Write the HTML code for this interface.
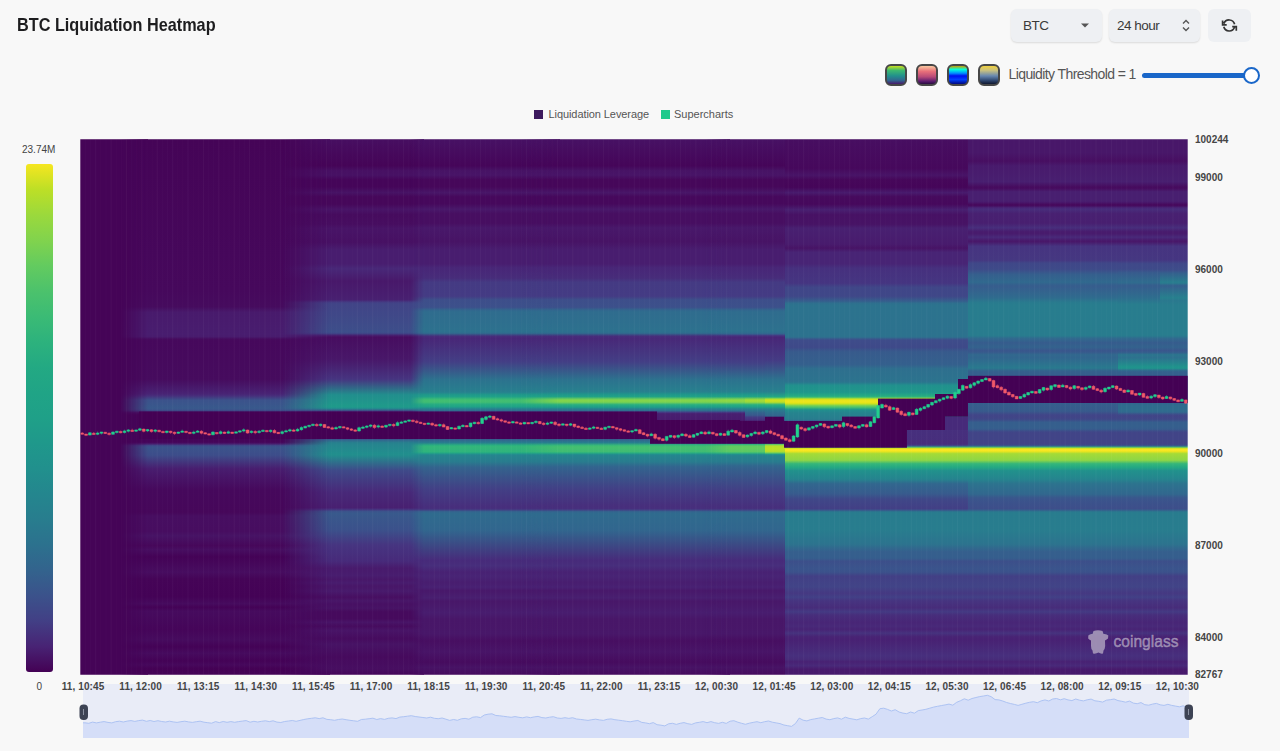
<!DOCTYPE html>
<html><head><meta charset="utf-8">
<style>
*{box-sizing:border-box;margin:0;padding:0}
html,body{width:1280px;height:751px;overflow:hidden;background:#f8f8f8;font-family:"Liberation Sans",sans-serif;position:relative}
.a{position:absolute;white-space:nowrap}
.title{left:16.5px;top:13.5px;font-size:19px;font-weight:bold;color:#1d1d1f;transform:scaleX(0.855);transform-origin:0 0}
.sel{position:absolute;top:9px;height:33px;background:#eef0f3;border-radius:6px;box-shadow:0 1px 2px rgba(0,0,0,0.12)}
.sel span{position:absolute;top:9px;font-size:13.5px;color:#3a3a3a;letter-spacing:-0.5px}
.cm{position:absolute;top:64px;width:22px;height:22px;border:2px solid #474747;border-radius:6px}
.hm{position:absolute;left:0;top:0}
.yl{position:absolute;left:1195px;font-size:10px;color:#454545;font-weight:bold;line-height:12px;margin-top:0.8px}
.xl{position:absolute;top:681.3px;font-size:10px;color:#454545;font-weight:bold;line-height:12px;width:70px;text-align:center;letter-spacing:0.1px}
</style></head><body>
<div class="a title">BTC Liquidation Heatmap</div>
<div class="sel" style="left:1011px;width:91px"><span style="left:12px">BTC</span>
<svg style="position:absolute;left:70px;top:13px" width="8" height="6"><path d="M0 1.5h8l-4 4z" fill="#555"/></svg></div>
<div class="sel" style="left:1109px;width:91px"><span style="left:8px">24 hour</span>
<svg style="position:absolute;left:72px;top:9px" width="10" height="15"><path d="M2 5.5l3-3 3 3M2 9.5l3 3 3-3" fill="none" stroke="#555" stroke-width="1.4"/></svg></div>
<div class="sel" style="left:1208px;width:43px;box-shadow:none"></div>
<svg style="position:absolute;left:0;top:0" width="1280" height="60"><g fill="none" stroke="#343434" stroke-width="1.7"><path d="M1234.6 24.3A5.6 5.6 0 0 0 1223.9 23.6M1222.6 20.5V24.8H1226.7M1223.8 26.8A5.6 5.6 0 0 0 1234.5 27.3M1232.2 26.6H1236.3V30.7"/></g></svg>

<div class="cm" style="left:885px;background:linear-gradient(#c8e020,#3cb870 25%,#21908c 55%,#31658e 80%,#481a6c)"></div>
<div class="cm" style="left:916px;background:linear-gradient(#f9c8a0,#e8707a 30%,#b84a78 60%,#5c1c6e 85%,#2a0c40)"></div>
<div class="cm" style="left:947px;background:linear-gradient(#c8a000,#00ffe0 20%,#0090ff 40%,#0010f0 55%,#0040ff 75%,#000880)"></div>
<div class="cm" style="left:978px;background:linear-gradient(#f0d040,#c8c080 25%,#6888b0 55%,#304870 80%,#101830)"></div>
<div class="a" style="left:1008.5px;top:66px;font-size:14px;color:#555;letter-spacing:-0.6px">Liquidity Threshold = 1</div>
<div class="a" style="left:1142px;top:73px;width:108px;height:5px;border-radius:3px;background:#1a67c9"></div>
<div class="a" style="left:1242.5px;top:67px;width:17px;height:17px;border-radius:50%;background:#fff;border:2.5px solid #1a67c9"></div>

<div class="a" style="left:534px;top:110px;width:9px;height:9px;background:#3d1a5e"></div>
<div class="a" style="left:548.5px;top:108px;font-size:11px;color:#555;letter-spacing:-0.08px">Liquidation Leverage</div>
<div class="a" style="left:661px;top:110px;width:9px;height:9px;background:#1ec98c"></div>
<div class="a" style="left:674px;top:108px;font-size:11px;color:#555">Supercharts</div>

<div class="a" style="left:22px;top:144px;font-size:10px;color:#444">23.74M</div>
<div class="a" style="left:26px;top:164px;width:27px;height:508px;border-radius:3px;background:linear-gradient(#f6e620 0.0%,#bddf26 5.0%,#9bd93c 10.0%,#81d34d 15.0%,#63cb5f 20.0%,#4cc26c 25.0%,#3bbb75 30.0%,#2db27d 35.0%,#23a983 40.0%,#20a486 45.0%,#1fa088 50.0%,#1f988b 55.0%,#21908d 60.0%,#24868e 65.0%,#287d8e 70.0%,#2c718e 75.0%,#33638d 80.0%,#3b528b 85.0%,#423f85 90.0%,#482374 95.0%,#440154 100.0%)"></div>
<div class="a" style="left:36.5px;top:681px;font-size:10px;color:#444">0</div>

<svg class="hm" width="1280" height="751" viewBox="0 0 1280 751"><defs><linearGradient id="g0" gradientUnits="userSpaceOnUse" x1="0" y1="139.2" x2="0" y2="674.8"><stop offset="0.0000" stop-color="#450457"/><stop offset="0.9999" stop-color="#450457"/></linearGradient><linearGradient id="g1" gradientUnits="userSpaceOnUse" x1="0" y1="139.2" x2="0" y2="674.8"><stop offset="0.0000" stop-color="#450457"/><stop offset="0.2820" stop-color="#46085c"/><stop offset="0.3128" stop-color="#460b5e"/><stop offset="0.3230" stop-color="#481a6c"/><stop offset="0.3650" stop-color="#481d6f"/><stop offset="0.3688" stop-color="#481b6d"/><stop offset="0.3734" stop-color="#460a5d"/><stop offset="0.3762" stop-color="#46085c"/><stop offset="0.4481" stop-color="#460b5e"/><stop offset="0.4752" stop-color="#482374"/><stop offset="0.4789" stop-color="#472d7b"/><stop offset="0.4873" stop-color="#3b528b"/><stop offset="0.5023" stop-color="#38598c"/><stop offset="0.5060" stop-color="#3b518b"/><stop offset="0.5107" stop-color="#471063"/><stop offset="0.5144" stop-color="#450457"/><stop offset="0.5658" stop-color="#450559"/><stop offset="0.5686" stop-color="#481a6c"/><stop offset="0.5723" stop-color="#3e4c8a"/><stop offset="0.5751" stop-color="#3a538b"/><stop offset="0.5900" stop-color="#3d4d8a"/><stop offset="0.6153" stop-color="#481d6f"/><stop offset="0.6554" stop-color="#46085c"/><stop offset="0.6965" stop-color="#46075a"/><stop offset="0.7039" stop-color="#470e61"/><stop offset="0.7320" stop-color="#470d60"/><stop offset="0.7404" stop-color="#471365"/><stop offset="0.7590" stop-color="#46075a"/><stop offset="0.7665" stop-color="#470e61"/><stop offset="0.7796" stop-color="#440256"/><stop offset="0.8085" stop-color="#470d60"/><stop offset="0.8207" stop-color="#450457"/><stop offset="0.8543" stop-color="#440256"/><stop offset="0.8673" stop-color="#460b5e"/><stop offset="0.8739" stop-color="#440256"/><stop offset="0.8813" stop-color="#460b5e"/><stop offset="0.9149" stop-color="#450559"/><stop offset="0.9346" stop-color="#460b5e"/><stop offset="0.9476" stop-color="#440256"/><stop offset="0.9598" stop-color="#460b5e"/><stop offset="0.9738" stop-color="#440256"/><stop offset="0.9812" stop-color="#46085c"/><stop offset="0.9887" stop-color="#440154"/><stop offset="0.9999" stop-color="#450457"/></linearGradient><linearGradient id="f1" gradientUnits="userSpaceOnUse" x1="120.0" y1="0" x2="148.0" y2="0"><stop offset="0" stop-color="#fff" stop-opacity="0"/><stop offset="1" stop-color="#fff" stop-opacity="1"/></linearGradient><mask id="m1" maskUnits="userSpaceOnUse" x="0" y="0" width="1280" height="751"><rect x="120.0" y="136.2" width="210.0" height="541.5" fill="url(#f1)"/></mask><linearGradient id="g2" gradientUnits="userSpaceOnUse" x1="0" y1="139.2" x2="0" y2="674.8"><stop offset="0.0000" stop-color="#470e61"/><stop offset="0.0495" stop-color="#450457"/><stop offset="0.0588" stop-color="#471063"/><stop offset="0.0672" stop-color="#471164"/><stop offset="0.0756" stop-color="#450559"/><stop offset="0.0887" stop-color="#450559"/><stop offset="0.0999" stop-color="#471365"/><stop offset="0.1074" stop-color="#46075a"/><stop offset="0.1214" stop-color="#46075a"/><stop offset="0.1307" stop-color="#481467"/><stop offset="0.1410" stop-color="#460b5e"/><stop offset="0.1587" stop-color="#470d60"/><stop offset="0.1662" stop-color="#481467"/><stop offset="0.1923" stop-color="#471063"/><stop offset="0.2063" stop-color="#481d6f"/><stop offset="0.2325" stop-color="#481d6f"/><stop offset="0.2418" stop-color="#482878"/><stop offset="0.2651" stop-color="#48186a"/><stop offset="0.2997" stop-color="#482071"/><stop offset="0.3044" stop-color="#433d84"/><stop offset="0.3072" stop-color="#414487"/><stop offset="0.3594" stop-color="#3d4e8a"/><stop offset="0.3622" stop-color="#3e4989"/><stop offset="0.3669" stop-color="#481a6c"/><stop offset="0.3697" stop-color="#470d60"/><stop offset="0.4108" stop-color="#481769"/><stop offset="0.4481" stop-color="#463480"/><stop offset="0.4771" stop-color="#218e8d"/><stop offset="0.4986" stop-color="#1f9a8a"/><stop offset="0.5004" stop-color="#1f988b"/><stop offset="0.5023" stop-color="#218f8d"/><stop offset="0.5042" stop-color="#297b8e"/><stop offset="0.5079" stop-color="#453781"/><stop offset="0.5098" stop-color="#481769"/><stop offset="0.5116" stop-color="#46075a"/><stop offset="0.5135" stop-color="#450457"/><stop offset="0.5546" stop-color="#450559"/><stop offset="0.5564" stop-color="#471164"/><stop offset="0.5574" stop-color="#481d6f"/><stop offset="0.5602" stop-color="#3b528b"/><stop offset="0.5620" stop-color="#31688e"/><stop offset="0.5667" stop-color="#27808e"/><stop offset="0.5704" stop-color="#25858e"/><stop offset="0.5882" stop-color="#218f8d"/><stop offset="0.5919" stop-color="#238a8d"/><stop offset="0.6181" stop-color="#3e4a89"/><stop offset="0.6591" stop-color="#482979"/><stop offset="0.6881" stop-color="#482071"/><stop offset="0.6909" stop-color="#472f7d"/><stop offset="0.6946" stop-color="#3b528b"/><stop offset="0.6983" stop-color="#38598c"/><stop offset="0.7292" stop-color="#3b518b"/><stop offset="0.7581" stop-color="#463480"/><stop offset="0.7880" stop-color="#472a7a"/><stop offset="0.8010" stop-color="#481a6c"/><stop offset="0.8150" stop-color="#481d6f"/><stop offset="0.8216" stop-color="#481769"/><stop offset="0.8281" stop-color="#481c6e"/><stop offset="0.8347" stop-color="#481668"/><stop offset="0.8440" stop-color="#481a6c"/><stop offset="0.8552" stop-color="#470e61"/><stop offset="0.8617" stop-color="#481668"/><stop offset="0.8683" stop-color="#471063"/><stop offset="0.8757" stop-color="#471365"/><stop offset="0.8823" stop-color="#460a5d"/><stop offset="0.8953" stop-color="#460a5d"/><stop offset="0.9019" stop-color="#481467"/><stop offset="0.9093" stop-color="#460b5e"/><stop offset="0.9168" stop-color="#481467"/><stop offset="0.9327" stop-color="#460b5e"/><stop offset="0.9430" stop-color="#471365"/><stop offset="0.9663" stop-color="#460a5d"/><stop offset="0.9887" stop-color="#470e61"/><stop offset="0.9999" stop-color="#450559"/></linearGradient><linearGradient id="f2" gradientUnits="userSpaceOnUse" x1="282.0" y1="0" x2="330.0" y2="0"><stop offset="0" stop-color="#fff" stop-opacity="0"/><stop offset="1" stop-color="#fff" stop-opacity="1"/></linearGradient><mask id="m2" maskUnits="userSpaceOnUse" x="0" y="0" width="1280" height="751"><rect x="282.0" y="136.2" width="142.0" height="541.5" fill="url(#f2)"/></mask><linearGradient id="g3" gradientUnits="userSpaceOnUse" x1="0" y1="139.2" x2="0" y2="674.8"><stop offset="0.0000" stop-color="#471164"/><stop offset="0.0495" stop-color="#450559"/><stop offset="0.0588" stop-color="#471365"/><stop offset="0.0672" stop-color="#481467"/><stop offset="0.0756" stop-color="#46075a"/><stop offset="0.0887" stop-color="#46075a"/><stop offset="0.0999" stop-color="#481668"/><stop offset="0.1074" stop-color="#46085c"/><stop offset="0.1204" stop-color="#46085c"/><stop offset="0.1307" stop-color="#48186a"/><stop offset="0.1391" stop-color="#470e61"/><stop offset="0.1568" stop-color="#470e61"/><stop offset="0.1653" stop-color="#48186a"/><stop offset="0.1914" stop-color="#471365"/><stop offset="0.2063" stop-color="#481d6f"/><stop offset="0.2325" stop-color="#481d6f"/><stop offset="0.2399" stop-color="#482677"/><stop offset="0.2595" stop-color="#472c7a"/><stop offset="0.2670" stop-color="#443a83"/><stop offset="0.2932" stop-color="#443b84"/><stop offset="0.2997" stop-color="#3d4e8a"/><stop offset="0.3137" stop-color="#3c508b"/><stop offset="0.3193" stop-color="#31678e"/><stop offset="0.3221" stop-color="#2f6c8e"/><stop offset="0.3585" stop-color="#2d718e"/><stop offset="0.3622" stop-color="#2f6b8e"/><stop offset="0.3678" stop-color="#472d7b"/><stop offset="0.3716" stop-color="#482677"/><stop offset="0.4155" stop-color="#433e85"/><stop offset="0.4491" stop-color="#2c728e"/><stop offset="0.4705" stop-color="#277e8e"/><stop offset="0.4733" stop-color="#25858e"/><stop offset="0.4771" stop-color="#1f998a"/><stop offset="0.4808" stop-color="#1fa188"/><stop offset="0.4855" stop-color="#3bbb75"/><stop offset="0.4883" stop-color="#42be71"/><stop offset="0.4911" stop-color="#3fbc73"/><stop offset="0.4948" stop-color="#27ad81"/><stop offset="0.4995" stop-color="#1fa287"/><stop offset="0.5032" stop-color="#25838e"/><stop offset="0.5070" stop-color="#2f6c8e"/><stop offset="0.5098" stop-color="#433e85"/><stop offset="0.5116" stop-color="#482576"/><stop offset="0.5135" stop-color="#481f70"/><stop offset="0.5238" stop-color="#481c6e"/><stop offset="0.5284" stop-color="#46085c"/><stop offset="0.5312" stop-color="#450457"/><stop offset="0.5527" stop-color="#450457"/><stop offset="0.5555" stop-color="#460a5d"/><stop offset="0.5574" stop-color="#482173"/><stop offset="0.5602" stop-color="#38598c"/><stop offset="0.5611" stop-color="#32648e"/><stop offset="0.5667" stop-color="#287d8e"/><stop offset="0.5714" stop-color="#29af7f"/><stop offset="0.5732" stop-color="#31b57b"/><stop offset="0.5760" stop-color="#32b67a"/><stop offset="0.5835" stop-color="#2fb47c"/><stop offset="0.5854" stop-color="#25ab82"/><stop offset="0.5882" stop-color="#21908d"/><stop offset="0.5900" stop-color="#25858e"/><stop offset="0.6022" stop-color="#287c8e"/><stop offset="0.6125" stop-color="#33638d"/><stop offset="0.6535" stop-color="#423f85"/><stop offset="0.6862" stop-color="#472e7c"/><stop offset="0.6890" stop-color="#472e7c"/><stop offset="0.6909" stop-color="#463480"/><stop offset="0.6955" stop-color="#32658e"/><stop offset="0.6993" stop-color="#2f6b8e"/><stop offset="0.7301" stop-color="#31668e"/><stop offset="0.7870" stop-color="#472a7a"/><stop offset="0.7964" stop-color="#472e7c"/><stop offset="0.8085" stop-color="#482173"/><stop offset="0.8160" stop-color="#482475"/><stop offset="0.8281" stop-color="#481d6f"/><stop offset="0.8365" stop-color="#482173"/><stop offset="0.8431" stop-color="#48186a"/><stop offset="0.8561" stop-color="#481f70"/><stop offset="0.8627" stop-color="#481769"/><stop offset="0.8841" stop-color="#481d6f"/><stop offset="0.8963" stop-color="#481668"/><stop offset="0.9233" stop-color="#481769"/><stop offset="0.9364" stop-color="#470e61"/><stop offset="0.9570" stop-color="#481467"/><stop offset="0.9766" stop-color="#460b5e"/><stop offset="0.9859" stop-color="#471365"/><stop offset="0.9999" stop-color="#460b5e"/></linearGradient><linearGradient id="f3" gradientUnits="userSpaceOnUse" x1="410.0" y1="0" x2="424.0" y2="0"><stop offset="0" stop-color="#fff" stop-opacity="0"/><stop offset="1" stop-color="#fff" stop-opacity="1"/></linearGradient><mask id="m3" maskUnits="userSpaceOnUse" x="0" y="0" width="1280" height="751"><rect x="410.0" y="136.2" width="150.0" height="541.5" fill="url(#f3)"/></mask><linearGradient id="g4" gradientUnits="userSpaceOnUse" x1="0" y1="139.2" x2="0" y2="674.8"><stop offset="0.0000" stop-color="#471164"/><stop offset="0.0495" stop-color="#450559"/><stop offset="0.0588" stop-color="#471365"/><stop offset="0.0672" stop-color="#481467"/><stop offset="0.0756" stop-color="#46075a"/><stop offset="0.0887" stop-color="#46075a"/><stop offset="0.0999" stop-color="#481668"/><stop offset="0.1074" stop-color="#46085c"/><stop offset="0.1204" stop-color="#46085c"/><stop offset="0.1307" stop-color="#48186a"/><stop offset="0.1391" stop-color="#470e61"/><stop offset="0.1568" stop-color="#470e61"/><stop offset="0.1653" stop-color="#48186a"/><stop offset="0.1914" stop-color="#471365"/><stop offset="0.2063" stop-color="#481d6f"/><stop offset="0.2325" stop-color="#481d6f"/><stop offset="0.2399" stop-color="#482677"/><stop offset="0.2595" stop-color="#472c7a"/><stop offset="0.2670" stop-color="#443a83"/><stop offset="0.2932" stop-color="#443b84"/><stop offset="0.2997" stop-color="#3d4e8a"/><stop offset="0.3137" stop-color="#3c508b"/><stop offset="0.3193" stop-color="#31678e"/><stop offset="0.3221" stop-color="#2f6c8e"/><stop offset="0.3585" stop-color="#2d718e"/><stop offset="0.3622" stop-color="#2f6b8e"/><stop offset="0.3678" stop-color="#472d7b"/><stop offset="0.3725" stop-color="#482878"/><stop offset="0.4155" stop-color="#433e85"/><stop offset="0.4491" stop-color="#2c728e"/><stop offset="0.4715" stop-color="#27808e"/><stop offset="0.4761" stop-color="#1f958b"/><stop offset="0.4808" stop-color="#20a386"/><stop offset="0.4855" stop-color="#73d056"/><stop offset="0.4883" stop-color="#86d549"/><stop offset="0.4911" stop-color="#77d153"/><stop offset="0.4958" stop-color="#28ae80"/><stop offset="0.5004" stop-color="#1e9d89"/><stop offset="0.5032" stop-color="#25838e"/><stop offset="0.5070" stop-color="#2f6c8e"/><stop offset="0.5098" stop-color="#433e85"/><stop offset="0.5116" stop-color="#482576"/><stop offset="0.5135" stop-color="#481f70"/><stop offset="0.5238" stop-color="#481c6e"/><stop offset="0.5303" stop-color="#450559"/><stop offset="0.5527" stop-color="#450457"/><stop offset="0.5555" stop-color="#460a5d"/><stop offset="0.5574" stop-color="#482173"/><stop offset="0.5602" stop-color="#38598c"/><stop offset="0.5611" stop-color="#32648e"/><stop offset="0.5667" stop-color="#277e8e"/><stop offset="0.5714" stop-color="#35b779"/><stop offset="0.5732" stop-color="#40bd72"/><stop offset="0.5760" stop-color="#44bf70"/><stop offset="0.5835" stop-color="#3fbc73"/><stop offset="0.5854" stop-color="#2cb17e"/><stop offset="0.5882" stop-color="#20928c"/><stop offset="0.5900" stop-color="#24868e"/><stop offset="0.6022" stop-color="#287c8e"/><stop offset="0.6115" stop-color="#32648e"/><stop offset="0.6535" stop-color="#423f85"/><stop offset="0.6853" stop-color="#472e7c"/><stop offset="0.6899" stop-color="#472f7d"/><stop offset="0.6918" stop-color="#433d84"/><stop offset="0.6955" stop-color="#32658e"/><stop offset="0.6993" stop-color="#2f6b8e"/><stop offset="0.7301" stop-color="#31668e"/><stop offset="0.7870" stop-color="#472a7a"/><stop offset="0.7964" stop-color="#472e7c"/><stop offset="0.8085" stop-color="#482173"/><stop offset="0.8160" stop-color="#482475"/><stop offset="0.8281" stop-color="#481d6f"/><stop offset="0.8365" stop-color="#482173"/><stop offset="0.8431" stop-color="#48186a"/><stop offset="0.8561" stop-color="#481f70"/><stop offset="0.8627" stop-color="#481769"/><stop offset="0.8841" stop-color="#481d6f"/><stop offset="0.8963" stop-color="#481668"/><stop offset="0.9233" stop-color="#481769"/><stop offset="0.9364" stop-color="#470e61"/><stop offset="0.9570" stop-color="#481467"/><stop offset="0.9766" stop-color="#460b5e"/><stop offset="0.9859" stop-color="#471365"/><stop offset="0.9999" stop-color="#460b5e"/></linearGradient><linearGradient id="f4" gradientUnits="userSpaceOnUse" x1="520.0" y1="0" x2="560.0" y2="0"><stop offset="0" stop-color="#fff" stop-opacity="0"/><stop offset="1" stop-color="#fff" stop-opacity="1"/></linearGradient><mask id="m4" maskUnits="userSpaceOnUse" x="0" y="0" width="1280" height="751"><rect x="520.0" y="136.2" width="210.0" height="541.5" fill="url(#f4)"/></mask><linearGradient id="g5" gradientUnits="userSpaceOnUse" x1="0" y1="139.2" x2="0" y2="674.8"><stop offset="0.0000" stop-color="#471164"/><stop offset="0.0495" stop-color="#450559"/><stop offset="0.0588" stop-color="#471365"/><stop offset="0.0672" stop-color="#481467"/><stop offset="0.0756" stop-color="#46075a"/><stop offset="0.0887" stop-color="#46075a"/><stop offset="0.0999" stop-color="#481668"/><stop offset="0.1074" stop-color="#46085c"/><stop offset="0.1204" stop-color="#46085c"/><stop offset="0.1307" stop-color="#48186a"/><stop offset="0.1391" stop-color="#470e61"/><stop offset="0.1568" stop-color="#470e61"/><stop offset="0.1653" stop-color="#48186a"/><stop offset="0.1914" stop-color="#471365"/><stop offset="0.2063" stop-color="#481d6f"/><stop offset="0.2325" stop-color="#481d6f"/><stop offset="0.2399" stop-color="#482677"/><stop offset="0.2595" stop-color="#472c7a"/><stop offset="0.2670" stop-color="#443a83"/><stop offset="0.2932" stop-color="#443b84"/><stop offset="0.2997" stop-color="#3d4e8a"/><stop offset="0.3137" stop-color="#3c508b"/><stop offset="0.3193" stop-color="#31678e"/><stop offset="0.3221" stop-color="#2f6c8e"/><stop offset="0.3576" stop-color="#2d718e"/><stop offset="0.3622" stop-color="#2f6b8e"/><stop offset="0.3641" stop-color="#375b8d"/><stop offset="0.3669" stop-color="#463480"/><stop offset="0.3697" stop-color="#482677"/><stop offset="0.4099" stop-color="#443a83"/><stop offset="0.4173" stop-color="#424086"/><stop offset="0.4491" stop-color="#2c728e"/><stop offset="0.4715" stop-color="#27808e"/><stop offset="0.4761" stop-color="#1f958b"/><stop offset="0.4808" stop-color="#20a486"/><stop offset="0.4855" stop-color="#7fd34e"/><stop offset="0.4883" stop-color="#93d741"/><stop offset="0.4911" stop-color="#81d34d"/><stop offset="0.4958" stop-color="#28ae80"/><stop offset="0.4995" stop-color="#1fa287"/><stop offset="0.5032" stop-color="#25838e"/><stop offset="0.5060" stop-color="#2c738e"/><stop offset="0.5079" stop-color="#355f8d"/><stop offset="0.5107" stop-color="#472e7c"/><stop offset="0.5116" stop-color="#482576"/><stop offset="0.5135" stop-color="#481f70"/><stop offset="0.5238" stop-color="#481c6e"/><stop offset="0.5303" stop-color="#450559"/><stop offset="0.5527" stop-color="#450457"/><stop offset="0.5555" stop-color="#460a5d"/><stop offset="0.5574" stop-color="#482173"/><stop offset="0.5602" stop-color="#38598c"/><stop offset="0.5611" stop-color="#32648e"/><stop offset="0.5667" stop-color="#27808e"/><stop offset="0.5676" stop-color="#228b8d"/><stop offset="0.5704" stop-color="#38b977"/><stop offset="0.5714" stop-color="#4cc26c"/><stop offset="0.5732" stop-color="#60ca60"/><stop offset="0.5770" stop-color="#63cb5f"/><stop offset="0.5835" stop-color="#5ac864"/><stop offset="0.5854" stop-color="#3dbc74"/><stop offset="0.5882" stop-color="#1f958b"/><stop offset="0.5891" stop-color="#228c8d"/><stop offset="0.5910" stop-color="#25838e"/><stop offset="0.6022" stop-color="#287c8e"/><stop offset="0.6097" stop-color="#31678e"/><stop offset="0.6134" stop-color="#33628d"/><stop offset="0.6573" stop-color="#433d84"/><stop offset="0.6890" stop-color="#472e7c"/><stop offset="0.6918" stop-color="#433d84"/><stop offset="0.6955" stop-color="#32658e"/><stop offset="0.6974" stop-color="#2f6b8e"/><stop offset="0.7002" stop-color="#2f6b8e"/><stop offset="0.7301" stop-color="#31668e"/><stop offset="0.7870" stop-color="#472a7a"/><stop offset="0.7964" stop-color="#472e7c"/><stop offset="0.8085" stop-color="#482173"/><stop offset="0.8160" stop-color="#482475"/><stop offset="0.8281" stop-color="#481d6f"/><stop offset="0.8365" stop-color="#482173"/><stop offset="0.8431" stop-color="#48186a"/><stop offset="0.8561" stop-color="#481f70"/><stop offset="0.8627" stop-color="#481769"/><stop offset="0.8841" stop-color="#481d6f"/><stop offset="0.8963" stop-color="#481668"/><stop offset="0.9233" stop-color="#481769"/><stop offset="0.9364" stop-color="#470e61"/><stop offset="0.9570" stop-color="#481467"/><stop offset="0.9766" stop-color="#460b5e"/><stop offset="0.9859" stop-color="#471365"/><stop offset="0.9999" stop-color="#460b5e"/></linearGradient><linearGradient id="f5" gradientUnits="userSpaceOnUse" x1="705.0" y1="0" x2="730.0" y2="0"><stop offset="0" stop-color="#fff" stop-opacity="0"/><stop offset="1" stop-color="#fff" stop-opacity="1"/></linearGradient><mask id="m5" maskUnits="userSpaceOnUse" x="0" y="0" width="1280" height="751"><rect x="705.0" y="136.2" width="40.0" height="541.5" fill="url(#f5)"/></mask><linearGradient id="g6" gradientUnits="userSpaceOnUse" x1="0" y1="139.2" x2="0" y2="674.8"><stop offset="0.0000" stop-color="#471164"/><stop offset="0.0495" stop-color="#450559"/><stop offset="0.0588" stop-color="#471365"/><stop offset="0.0672" stop-color="#481467"/><stop offset="0.0756" stop-color="#46075a"/><stop offset="0.0887" stop-color="#46075a"/><stop offset="0.0999" stop-color="#481668"/><stop offset="0.1074" stop-color="#46085c"/><stop offset="0.1204" stop-color="#46085c"/><stop offset="0.1307" stop-color="#48186a"/><stop offset="0.1391" stop-color="#470e61"/><stop offset="0.1568" stop-color="#470e61"/><stop offset="0.1653" stop-color="#48186a"/><stop offset="0.1914" stop-color="#471365"/><stop offset="0.2063" stop-color="#481d6f"/><stop offset="0.2325" stop-color="#481d6f"/><stop offset="0.2399" stop-color="#482677"/><stop offset="0.2595" stop-color="#472c7a"/><stop offset="0.2670" stop-color="#443a83"/><stop offset="0.2932" stop-color="#443b84"/><stop offset="0.2997" stop-color="#3d4e8a"/><stop offset="0.3137" stop-color="#3c508b"/><stop offset="0.3193" stop-color="#31678e"/><stop offset="0.3221" stop-color="#2f6c8e"/><stop offset="0.3576" stop-color="#2d718e"/><stop offset="0.3622" stop-color="#2f6b8e"/><stop offset="0.3641" stop-color="#375b8d"/><stop offset="0.3669" stop-color="#463480"/><stop offset="0.3697" stop-color="#482677"/><stop offset="0.4117" stop-color="#443b84"/><stop offset="0.4183" stop-color="#424186"/><stop offset="0.4491" stop-color="#2c728e"/><stop offset="0.4715" stop-color="#27808e"/><stop offset="0.4761" stop-color="#1f958b"/><stop offset="0.4808" stop-color="#21a585"/><stop offset="0.4855" stop-color="#90d743"/><stop offset="0.4883" stop-color="#a8db34"/><stop offset="0.4911" stop-color="#93d741"/><stop offset="0.4958" stop-color="#29af7f"/><stop offset="0.4995" stop-color="#1fa287"/><stop offset="0.5042" stop-color="#277e8e"/><stop offset="0.5107" stop-color="#33638d"/><stop offset="0.5154" stop-color="#38598c"/><stop offset="0.5191" stop-color="#443b84"/><stop offset="0.5238" stop-color="#46307e"/><stop offset="0.5284" stop-color="#470d60"/><stop offset="0.5312" stop-color="#450457"/><stop offset="0.5527" stop-color="#450457"/><stop offset="0.5555" stop-color="#460a5d"/><stop offset="0.5574" stop-color="#482173"/><stop offset="0.5602" stop-color="#38598c"/><stop offset="0.5611" stop-color="#32648e"/><stop offset="0.5667" stop-color="#27808e"/><stop offset="0.5676" stop-color="#228b8d"/><stop offset="0.5704" stop-color="#38b977"/><stop offset="0.5714" stop-color="#4cc26c"/><stop offset="0.5732" stop-color="#60ca60"/><stop offset="0.5770" stop-color="#63cb5f"/><stop offset="0.5835" stop-color="#5ac864"/><stop offset="0.5854" stop-color="#3dbc74"/><stop offset="0.5882" stop-color="#1f958b"/><stop offset="0.5891" stop-color="#228c8d"/><stop offset="0.5910" stop-color="#25838e"/><stop offset="0.6022" stop-color="#287c8e"/><stop offset="0.6097" stop-color="#31678e"/><stop offset="0.6134" stop-color="#33628d"/><stop offset="0.6573" stop-color="#433d84"/><stop offset="0.6890" stop-color="#472e7c"/><stop offset="0.6918" stop-color="#433d84"/><stop offset="0.6955" stop-color="#32658e"/><stop offset="0.6974" stop-color="#2f6b8e"/><stop offset="0.7002" stop-color="#2f6b8e"/><stop offset="0.7301" stop-color="#31668e"/><stop offset="0.7870" stop-color="#472a7a"/><stop offset="0.7964" stop-color="#472e7c"/><stop offset="0.8085" stop-color="#482173"/><stop offset="0.8160" stop-color="#482475"/><stop offset="0.8281" stop-color="#481d6f"/><stop offset="0.8365" stop-color="#482173"/><stop offset="0.8431" stop-color="#48186a"/><stop offset="0.8561" stop-color="#481f70"/><stop offset="0.8627" stop-color="#481769"/><stop offset="0.8841" stop-color="#481d6f"/><stop offset="0.8963" stop-color="#481668"/><stop offset="0.9233" stop-color="#481769"/><stop offset="0.9364" stop-color="#470e61"/><stop offset="0.9570" stop-color="#481467"/><stop offset="0.9766" stop-color="#460b5e"/><stop offset="0.9859" stop-color="#471365"/><stop offset="0.9999" stop-color="#460b5e"/></linearGradient><linearGradient id="g7" gradientUnits="userSpaceOnUse" x1="0" y1="139.2" x2="0" y2="674.8"><stop offset="0.0000" stop-color="#471164"/><stop offset="0.0495" stop-color="#450559"/><stop offset="0.0588" stop-color="#471365"/><stop offset="0.0672" stop-color="#481467"/><stop offset="0.0756" stop-color="#46075a"/><stop offset="0.0887" stop-color="#46075a"/><stop offset="0.0999" stop-color="#481668"/><stop offset="0.1074" stop-color="#46085c"/><stop offset="0.1204" stop-color="#46085c"/><stop offset="0.1307" stop-color="#48186a"/><stop offset="0.1391" stop-color="#470e61"/><stop offset="0.1568" stop-color="#470e61"/><stop offset="0.1653" stop-color="#48186a"/><stop offset="0.1914" stop-color="#471365"/><stop offset="0.2063" stop-color="#481d6f"/><stop offset="0.2325" stop-color="#481d6f"/><stop offset="0.2399" stop-color="#482677"/><stop offset="0.2595" stop-color="#472c7a"/><stop offset="0.2670" stop-color="#443a83"/><stop offset="0.2932" stop-color="#443b84"/><stop offset="0.2997" stop-color="#3d4e8a"/><stop offset="0.3137" stop-color="#3c508b"/><stop offset="0.3193" stop-color="#31678e"/><stop offset="0.3221" stop-color="#2f6c8e"/><stop offset="0.3576" stop-color="#2d718e"/><stop offset="0.3622" stop-color="#2f6b8e"/><stop offset="0.3641" stop-color="#375b8d"/><stop offset="0.3669" stop-color="#463480"/><stop offset="0.3697" stop-color="#482677"/><stop offset="0.4127" stop-color="#443b84"/><stop offset="0.4491" stop-color="#2c728e"/><stop offset="0.4715" stop-color="#27808e"/><stop offset="0.4808" stop-color="#22a785"/><stop offset="0.4817" stop-color="#2cb17e"/><stop offset="0.4845" stop-color="#93d741"/><stop offset="0.4855" stop-color="#b2dd2d"/><stop offset="0.4864" stop-color="#c5e021"/><stop offset="0.4883" stop-color="#d0e11c"/><stop offset="0.4911" stop-color="#b8de29"/><stop offset="0.4958" stop-color="#2cb17e"/><stop offset="0.4995" stop-color="#1fa287"/><stop offset="0.5042" stop-color="#277e8e"/><stop offset="0.5107" stop-color="#2e6e8e"/><stop offset="0.5238" stop-color="#375a8c"/><stop offset="0.5256" stop-color="#404688"/><stop offset="0.5284" stop-color="#481668"/><stop offset="0.5312" stop-color="#450559"/><stop offset="0.5527" stop-color="#450457"/><stop offset="0.5555" stop-color="#460a5d"/><stop offset="0.5574" stop-color="#482173"/><stop offset="0.5602" stop-color="#38598c"/><stop offset="0.5611" stop-color="#32648e"/><stop offset="0.5658" stop-color="#297a8e"/><stop offset="0.5667" stop-color="#25838e"/><stop offset="0.5676" stop-color="#20938c"/><stop offset="0.5704" stop-color="#6ece58"/><stop offset="0.5714" stop-color="#95d840"/><stop offset="0.5732" stop-color="#b8de29"/><stop offset="0.5770" stop-color="#bddf26"/><stop offset="0.5816" stop-color="#bade28"/><stop offset="0.5835" stop-color="#addc30"/><stop offset="0.5854" stop-color="#75d054"/><stop offset="0.5882" stop-color="#1f9e89"/><stop offset="0.5891" stop-color="#21908d"/><stop offset="0.5910" stop-color="#25848e"/><stop offset="0.6022" stop-color="#287c8e"/><stop offset="0.6097" stop-color="#31678e"/><stop offset="0.6134" stop-color="#33628d"/><stop offset="0.6554" stop-color="#433e85"/><stop offset="0.6890" stop-color="#472e7c"/><stop offset="0.6918" stop-color="#433d84"/><stop offset="0.6955" stop-color="#32658e"/><stop offset="0.6974" stop-color="#2f6b8e"/><stop offset="0.7002" stop-color="#2f6b8e"/><stop offset="0.7301" stop-color="#31668e"/><stop offset="0.7870" stop-color="#472a7a"/><stop offset="0.7964" stop-color="#472e7c"/><stop offset="0.8085" stop-color="#482173"/><stop offset="0.8160" stop-color="#482475"/><stop offset="0.8281" stop-color="#481d6f"/><stop offset="0.8365" stop-color="#482173"/><stop offset="0.8431" stop-color="#48186a"/><stop offset="0.8561" stop-color="#481f70"/><stop offset="0.8627" stop-color="#481769"/><stop offset="0.8841" stop-color="#481d6f"/><stop offset="0.8963" stop-color="#481668"/><stop offset="0.9233" stop-color="#481769"/><stop offset="0.9364" stop-color="#470e61"/><stop offset="0.9570" stop-color="#481467"/><stop offset="0.9766" stop-color="#460b5e"/><stop offset="0.9859" stop-color="#471365"/><stop offset="0.9999" stop-color="#460b5e"/></linearGradient><linearGradient id="g8" gradientUnits="userSpaceOnUse" x1="0" y1="139.2" x2="0" y2="674.8"><stop offset="0.0000" stop-color="#470e61"/><stop offset="0.0541" stop-color="#46085c"/><stop offset="0.0672" stop-color="#481467"/><stop offset="0.0756" stop-color="#46075a"/><stop offset="0.0896" stop-color="#450559"/><stop offset="0.0999" stop-color="#481b6d"/><stop offset="0.1074" stop-color="#460a5d"/><stop offset="0.1214" stop-color="#46085c"/><stop offset="0.1316" stop-color="#482071"/><stop offset="0.1410" stop-color="#471164"/><stop offset="0.1587" stop-color="#471365"/><stop offset="0.1662" stop-color="#482071"/><stop offset="0.1961" stop-color="#481b6d"/><stop offset="0.2035" stop-color="#471365"/><stop offset="0.2110" stop-color="#482475"/><stop offset="0.2325" stop-color="#482475"/><stop offset="0.2409" stop-color="#46307e"/><stop offset="0.2689" stop-color="#453581"/><stop offset="0.2764" stop-color="#404688"/><stop offset="0.2932" stop-color="#3f4788"/><stop offset="0.3025" stop-color="#355f8d"/><stop offset="0.3062" stop-color="#2e6f8e"/><stop offset="0.3100" stop-color="#2c738e"/><stop offset="0.3678" stop-color="#2c728e"/><stop offset="0.3697" stop-color="#2e6f8e"/><stop offset="0.3734" stop-color="#3a548c"/><stop offset="0.3753" stop-color="#3e4c8a"/><stop offset="0.3884" stop-color="#3e4989"/><stop offset="0.3968" stop-color="#375a8c"/><stop offset="0.4211" stop-color="#34608d"/><stop offset="0.4285" stop-color="#2e6f8e"/><stop offset="0.4519" stop-color="#2c738e"/><stop offset="0.4537" stop-color="#2a768e"/><stop offset="0.4593" stop-color="#21908d"/><stop offset="0.4724" stop-color="#1f978b"/><stop offset="0.4799" stop-color="#26ad81"/><stop offset="0.4817" stop-color="#3fbc73"/><stop offset="0.4845" stop-color="#b0dd2f"/><stop offset="0.4855" stop-color="#d0e11c"/><stop offset="0.4873" stop-color="#e7e419"/><stop offset="0.4892" stop-color="#ece51b"/><stop offset="0.4920" stop-color="#e5e419"/><stop offset="0.4939" stop-color="#cde11d"/><stop offset="0.4976" stop-color="#70cf57"/><stop offset="0.5004" stop-color="#4ac16d"/><stop offset="0.5042" stop-color="#1e9b8a"/><stop offset="0.5060" stop-color="#218e8d"/><stop offset="0.5107" stop-color="#25848e"/><stop offset="0.5228" stop-color="#287d8e"/><stop offset="0.5247" stop-color="#2c728e"/><stop offset="0.5284" stop-color="#433d84"/><stop offset="0.5303" stop-color="#46307e"/><stop offset="0.5686" stop-color="#472e7c"/><stop offset="0.5704" stop-color="#46337f"/><stop offset="0.5714" stop-color="#433e85"/><stop offset="0.5723" stop-color="#3c508b"/><stop offset="0.5732" stop-color="#2e6d8e"/><stop offset="0.5760" stop-color="#7cd250"/><stop offset="0.5770" stop-color="#c0df25"/><stop offset="0.5779" stop-color="#e7e419"/><stop offset="0.5788" stop-color="#f6e620"/><stop offset="0.5807" stop-color="#fbe723"/><stop offset="0.5826" stop-color="#f1e51d"/><stop offset="0.5872" stop-color="#a5db36"/><stop offset="0.5994" stop-color="#8ed645"/><stop offset="0.6059" stop-color="#34b679"/><stop offset="0.6125" stop-color="#23a983"/><stop offset="0.6190" stop-color="#21918c"/><stop offset="0.6349" stop-color="#25838e"/><stop offset="0.6433" stop-color="#31678e"/><stop offset="0.6619" stop-color="#375b8d"/><stop offset="0.6722" stop-color="#3f4788"/><stop offset="0.6899" stop-color="#423f85"/><stop offset="0.6918" stop-color="#3d4d8a"/><stop offset="0.6955" stop-color="#2a768e"/><stop offset="0.6974" stop-color="#287c8e"/><stop offset="0.7282" stop-color="#287d8e"/><stop offset="0.7562" stop-color="#2c738e"/><stop offset="0.7702" stop-color="#355f8d"/><stop offset="0.7824" stop-color="#355e8d"/><stop offset="0.7880" stop-color="#3c4f8a"/><stop offset="0.8020" stop-color="#3a548c"/><stop offset="0.8085" stop-color="#3b518b"/><stop offset="0.8160" stop-color="#423f85"/><stop offset="0.8356" stop-color="#414487"/><stop offset="0.8477" stop-color="#453882"/><stop offset="0.8552" stop-color="#424086"/><stop offset="0.8617" stop-color="#463480"/><stop offset="0.8748" stop-color="#472c7a"/><stop offset="0.8823" stop-color="#443a83"/><stop offset="0.8888" stop-color="#472d7b"/><stop offset="0.9028" stop-color="#482576"/><stop offset="0.9093" stop-color="#482979"/><stop offset="0.9149" stop-color="#482374"/><stop offset="0.9224" stop-color="#46327e"/><stop offset="0.9290" stop-color="#482374"/><stop offset="0.9346" stop-color="#482173"/><stop offset="0.9644" stop-color="#472f7d"/><stop offset="0.9710" stop-color="#472c7a"/><stop offset="0.9756" stop-color="#482173"/><stop offset="0.9831" stop-color="#482979"/><stop offset="0.9896" stop-color="#481a6c"/><stop offset="0.9999" stop-color="#481b6d"/></linearGradient><linearGradient id="g9" gradientUnits="userSpaceOnUse" x1="0" y1="139.2" x2="0" y2="674.8"><stop offset="0.0000" stop-color="#481769"/><stop offset="0.0252" stop-color="#481769"/><stop offset="0.0411" stop-color="#470e61"/><stop offset="0.0495" stop-color="#481a6c"/><stop offset="0.0794" stop-color="#481f70"/><stop offset="0.0896" stop-color="#460a5d"/><stop offset="0.0924" stop-color="#470d60"/><stop offset="0.0980" stop-color="#481f70"/><stop offset="0.1139" stop-color="#481f70"/><stop offset="0.1167" stop-color="#481c6e"/><stop offset="0.1223" stop-color="#46085c"/><stop offset="0.1242" stop-color="#460b5e"/><stop offset="0.1279" stop-color="#482475"/><stop offset="0.1307" stop-color="#472d7b"/><stop offset="0.1391" stop-color="#482071"/><stop offset="0.1568" stop-color="#481f70"/><stop offset="0.1653" stop-color="#472e7c"/><stop offset="0.1727" stop-color="#481b6d"/><stop offset="0.1765" stop-color="#481b6d"/><stop offset="0.1830" stop-color="#482979"/><stop offset="0.1886" stop-color="#481a6c"/><stop offset="0.1914" stop-color="#481769"/><stop offset="0.1998" stop-color="#463480"/><stop offset="0.2259" stop-color="#453781"/><stop offset="0.2315" stop-color="#3f4788"/><stop offset="0.2427" stop-color="#3e4a89"/><stop offset="0.2521" stop-color="#355e8d"/><stop offset="0.2670" stop-color="#30698e"/><stop offset="0.2726" stop-color="#355e8d"/><stop offset="0.2754" stop-color="#365d8d"/><stop offset="0.2960" stop-color="#2f6b8e"/><stop offset="0.3044" stop-color="#297a8e"/><stop offset="0.3090" stop-color="#287d8e"/><stop offset="0.3660" stop-color="#287c8e"/><stop offset="0.3678" stop-color="#29798e"/><stop offset="0.3716" stop-color="#306a8e"/><stop offset="0.3800" stop-color="#365c8d"/><stop offset="0.3884" stop-color="#33628d"/><stop offset="0.3949" stop-color="#39568c"/><stop offset="0.3977" stop-color="#375a8c"/><stop offset="0.4024" stop-color="#31688e"/><stop offset="0.4080" stop-color="#31668e"/><stop offset="0.4267" stop-color="#29798e"/><stop offset="0.4285" stop-color="#2b758e"/><stop offset="0.4323" stop-color="#33638d"/><stop offset="0.4351" stop-color="#355f8d"/><stop offset="0.4892" stop-color="#355f8d"/><stop offset="0.5079" stop-color="#375a8c"/><stop offset="0.5144" stop-color="#404688"/><stop offset="0.5182" stop-color="#414487"/><stop offset="0.5228" stop-color="#3f4788"/><stop offset="0.5284" stop-color="#355e8d"/><stop offset="0.5387" stop-color="#355f8d"/><stop offset="0.5415" stop-color="#365c8d"/><stop offset="0.5452" stop-color="#3e4a89"/><stop offset="0.5480" stop-color="#414487"/><stop offset="0.5686" stop-color="#414487"/><stop offset="0.5704" stop-color="#3f4788"/><stop offset="0.5714" stop-color="#3c4f8a"/><stop offset="0.5723" stop-color="#355e8d"/><stop offset="0.5732" stop-color="#2b758e"/><stop offset="0.5760" stop-color="#81d34d"/><stop offset="0.5770" stop-color="#c0df25"/><stop offset="0.5779" stop-color="#e7e419"/><stop offset="0.5788" stop-color="#f6e620"/><stop offset="0.5807" stop-color="#fbe723"/><stop offset="0.5826" stop-color="#f1e51d"/><stop offset="0.5872" stop-color="#a5db36"/><stop offset="0.5994" stop-color="#8ed645"/><stop offset="0.6059" stop-color="#34b679"/><stop offset="0.6125" stop-color="#23a983"/><stop offset="0.6190" stop-color="#21918c"/><stop offset="0.6349" stop-color="#25848e"/><stop offset="0.6433" stop-color="#2c738e"/><stop offset="0.6629" stop-color="#31678e"/><stop offset="0.6685" stop-color="#38598c"/><stop offset="0.6722" stop-color="#3a548c"/><stop offset="0.6899" stop-color="#3d4e8a"/><stop offset="0.6918" stop-color="#38588c"/><stop offset="0.6955" stop-color="#2a778e"/><stop offset="0.6974" stop-color="#287c8e"/><stop offset="0.7292" stop-color="#287d8e"/><stop offset="0.7562" stop-color="#2c738e"/><stop offset="0.7702" stop-color="#355f8d"/><stop offset="0.7824" stop-color="#355e8d"/><stop offset="0.7880" stop-color="#3c4f8a"/><stop offset="0.8020" stop-color="#3a548c"/><stop offset="0.8085" stop-color="#3b518b"/><stop offset="0.8160" stop-color="#423f85"/><stop offset="0.8356" stop-color="#414487"/><stop offset="0.8477" stop-color="#453882"/><stop offset="0.8552" stop-color="#424086"/><stop offset="0.8617" stop-color="#463480"/><stop offset="0.8748" stop-color="#472c7a"/><stop offset="0.8823" stop-color="#443a83"/><stop offset="0.8888" stop-color="#472d7b"/><stop offset="0.9028" stop-color="#482576"/><stop offset="0.9093" stop-color="#482979"/><stop offset="0.9149" stop-color="#482374"/><stop offset="0.9224" stop-color="#46327e"/><stop offset="0.9290" stop-color="#482374"/><stop offset="0.9346" stop-color="#482173"/><stop offset="0.9644" stop-color="#472f7d"/><stop offset="0.9710" stop-color="#472c7a"/><stop offset="0.9756" stop-color="#482173"/><stop offset="0.9831" stop-color="#482979"/><stop offset="0.9896" stop-color="#481a6c"/><stop offset="0.9999" stop-color="#481b6d"/></linearGradient><linearGradient id="g10" gradientUnits="userSpaceOnUse" x1="0" y1="139.2" x2="0" y2="674.8"><stop offset="0.0000" stop-color="#481769"/><stop offset="0.0252" stop-color="#481769"/><stop offset="0.0411" stop-color="#470e61"/><stop offset="0.0495" stop-color="#481a6c"/><stop offset="0.0794" stop-color="#481f70"/><stop offset="0.0896" stop-color="#460a5d"/><stop offset="0.0924" stop-color="#470d60"/><stop offset="0.0980" stop-color="#481f70"/><stop offset="0.1139" stop-color="#481f70"/><stop offset="0.1167" stop-color="#481c6e"/><stop offset="0.1223" stop-color="#46085c"/><stop offset="0.1242" stop-color="#460b5e"/><stop offset="0.1279" stop-color="#482475"/><stop offset="0.1307" stop-color="#472d7b"/><stop offset="0.1391" stop-color="#482071"/><stop offset="0.1568" stop-color="#481f70"/><stop offset="0.1653" stop-color="#472e7c"/><stop offset="0.1727" stop-color="#481b6d"/><stop offset="0.1765" stop-color="#481b6d"/><stop offset="0.1830" stop-color="#482979"/><stop offset="0.1886" stop-color="#481a6c"/><stop offset="0.1914" stop-color="#481769"/><stop offset="0.1998" stop-color="#463480"/><stop offset="0.2259" stop-color="#453781"/><stop offset="0.2325" stop-color="#3f4889"/><stop offset="0.2427" stop-color="#3e4a89"/><stop offset="0.2493" stop-color="#375b8d"/><stop offset="0.2651" stop-color="#306a8e"/><stop offset="0.2679" stop-color="#2f6b8e"/><stop offset="0.2726" stop-color="#355e8d"/><stop offset="0.2754" stop-color="#355e8d"/><stop offset="0.2960" stop-color="#2e6d8e"/><stop offset="0.3081" stop-color="#287d8e"/><stop offset="0.3660" stop-color="#287c8e"/><stop offset="0.3678" stop-color="#29798e"/><stop offset="0.3716" stop-color="#306a8e"/><stop offset="0.3800" stop-color="#365c8d"/><stop offset="0.3884" stop-color="#33628d"/><stop offset="0.3949" stop-color="#39568c"/><stop offset="0.3987" stop-color="#34608d"/><stop offset="0.4024" stop-color="#2b758e"/><stop offset="0.4080" stop-color="#2d718e"/><stop offset="0.4257" stop-color="#1f948c"/><stop offset="0.4276" stop-color="#20928c"/><stop offset="0.4285" stop-color="#228c8d"/><stop offset="0.4323" stop-color="#31678e"/><stop offset="0.4351" stop-color="#34608d"/><stop offset="0.4892" stop-color="#34608d"/><stop offset="0.4967" stop-color="#2f6b8e"/><stop offset="0.5070" stop-color="#2f6c8e"/><stop offset="0.5098" stop-color="#31688e"/><stop offset="0.5135" stop-color="#3d4e8a"/><stop offset="0.5163" stop-color="#414487"/><stop offset="0.5228" stop-color="#3f4788"/><stop offset="0.5284" stop-color="#355e8d"/><stop offset="0.5368" stop-color="#355f8d"/><stop offset="0.5415" stop-color="#365c8d"/><stop offset="0.5452" stop-color="#3e4a89"/><stop offset="0.5480" stop-color="#414487"/><stop offset="0.5686" stop-color="#414487"/><stop offset="0.5704" stop-color="#3f4788"/><stop offset="0.5714" stop-color="#3c4f8a"/><stop offset="0.5723" stop-color="#355e8d"/><stop offset="0.5732" stop-color="#2b758e"/><stop offset="0.5760" stop-color="#81d34d"/><stop offset="0.5770" stop-color="#c0df25"/><stop offset="0.5779" stop-color="#e7e419"/><stop offset="0.5788" stop-color="#f6e620"/><stop offset="0.5807" stop-color="#fbe723"/><stop offset="0.5826" stop-color="#f1e51d"/><stop offset="0.5872" stop-color="#a5db36"/><stop offset="0.5994" stop-color="#8ed645"/><stop offset="0.6059" stop-color="#34b679"/><stop offset="0.6125" stop-color="#23a983"/><stop offset="0.6190" stop-color="#21918c"/><stop offset="0.6349" stop-color="#25848e"/><stop offset="0.6433" stop-color="#2c738e"/><stop offset="0.6629" stop-color="#31678e"/><stop offset="0.6685" stop-color="#38598c"/><stop offset="0.6722" stop-color="#3a548c"/><stop offset="0.6899" stop-color="#3d4e8a"/><stop offset="0.6918" stop-color="#38588c"/><stop offset="0.6955" stop-color="#2a778e"/><stop offset="0.6974" stop-color="#287c8e"/><stop offset="0.7292" stop-color="#287d8e"/><stop offset="0.7562" stop-color="#2c738e"/><stop offset="0.7702" stop-color="#355f8d"/><stop offset="0.7824" stop-color="#355e8d"/><stop offset="0.7880" stop-color="#3c4f8a"/><stop offset="0.8020" stop-color="#3a548c"/><stop offset="0.8085" stop-color="#3b518b"/><stop offset="0.8160" stop-color="#423f85"/><stop offset="0.8356" stop-color="#414487"/><stop offset="0.8477" stop-color="#453882"/><stop offset="0.8552" stop-color="#424086"/><stop offset="0.8617" stop-color="#463480"/><stop offset="0.8748" stop-color="#472c7a"/><stop offset="0.8823" stop-color="#443a83"/><stop offset="0.8888" stop-color="#472d7b"/><stop offset="0.9028" stop-color="#482576"/><stop offset="0.9093" stop-color="#482979"/><stop offset="0.9149" stop-color="#482374"/><stop offset="0.9224" stop-color="#46327e"/><stop offset="0.9290" stop-color="#482374"/><stop offset="0.9346" stop-color="#482173"/><stop offset="0.9644" stop-color="#472f7d"/><stop offset="0.9710" stop-color="#472c7a"/><stop offset="0.9756" stop-color="#482173"/><stop offset="0.9831" stop-color="#482979"/><stop offset="0.9896" stop-color="#481a6c"/><stop offset="0.9999" stop-color="#481b6d"/></linearGradient><linearGradient id="g11" gradientUnits="userSpaceOnUse" x1="0" y1="139.2" x2="0" y2="674.8"><stop offset="0.0000" stop-color="#481769"/><stop offset="0.0252" stop-color="#481769"/><stop offset="0.0411" stop-color="#470e61"/><stop offset="0.0495" stop-color="#481a6c"/><stop offset="0.0794" stop-color="#481f70"/><stop offset="0.0896" stop-color="#460a5d"/><stop offset="0.0924" stop-color="#470d60"/><stop offset="0.0980" stop-color="#481f70"/><stop offset="0.1139" stop-color="#481f70"/><stop offset="0.1167" stop-color="#481c6e"/><stop offset="0.1223" stop-color="#46085c"/><stop offset="0.1242" stop-color="#460b5e"/><stop offset="0.1279" stop-color="#482475"/><stop offset="0.1307" stop-color="#472d7b"/><stop offset="0.1391" stop-color="#482071"/><stop offset="0.1568" stop-color="#481f70"/><stop offset="0.1653" stop-color="#472e7c"/><stop offset="0.1727" stop-color="#481b6d"/><stop offset="0.1765" stop-color="#481b6d"/><stop offset="0.1830" stop-color="#482979"/><stop offset="0.1886" stop-color="#481a6c"/><stop offset="0.1914" stop-color="#481769"/><stop offset="0.1998" stop-color="#463480"/><stop offset="0.2250" stop-color="#453581"/><stop offset="0.2325" stop-color="#3f4889"/><stop offset="0.2437" stop-color="#3e4c8a"/><stop offset="0.2502" stop-color="#34608d"/><stop offset="0.2670" stop-color="#287d8e"/><stop offset="0.2689" stop-color="#297a8e"/><stop offset="0.2726" stop-color="#33638d"/><stop offset="0.2745" stop-color="#34618d"/><stop offset="0.2960" stop-color="#27808e"/><stop offset="0.3016" stop-color="#2a788e"/><stop offset="0.3090" stop-color="#287d8e"/><stop offset="0.3650" stop-color="#287d8e"/><stop offset="0.3678" stop-color="#29798e"/><stop offset="0.3725" stop-color="#31688e"/><stop offset="0.3800" stop-color="#365c8d"/><stop offset="0.3884" stop-color="#33628d"/><stop offset="0.3949" stop-color="#39568c"/><stop offset="0.3987" stop-color="#34608d"/><stop offset="0.4024" stop-color="#2b758e"/><stop offset="0.4080" stop-color="#2d718e"/><stop offset="0.4257" stop-color="#1f948c"/><stop offset="0.4276" stop-color="#20928c"/><stop offset="0.4285" stop-color="#228c8d"/><stop offset="0.4323" stop-color="#31678e"/><stop offset="0.4351" stop-color="#34608d"/><stop offset="0.4892" stop-color="#34608d"/><stop offset="0.4967" stop-color="#2f6b8e"/><stop offset="0.5070" stop-color="#2f6c8e"/><stop offset="0.5098" stop-color="#31688e"/><stop offset="0.5135" stop-color="#3d4e8a"/><stop offset="0.5163" stop-color="#414487"/><stop offset="0.5228" stop-color="#3f4788"/><stop offset="0.5284" stop-color="#355e8d"/><stop offset="0.5368" stop-color="#355f8d"/><stop offset="0.5415" stop-color="#365c8d"/><stop offset="0.5452" stop-color="#3e4a89"/><stop offset="0.5480" stop-color="#414487"/><stop offset="0.5686" stop-color="#414487"/><stop offset="0.5704" stop-color="#3f4788"/><stop offset="0.5714" stop-color="#3c4f8a"/><stop offset="0.5723" stop-color="#355e8d"/><stop offset="0.5732" stop-color="#2b758e"/><stop offset="0.5760" stop-color="#81d34d"/><stop offset="0.5770" stop-color="#c0df25"/><stop offset="0.5779" stop-color="#e7e419"/><stop offset="0.5788" stop-color="#f6e620"/><stop offset="0.5807" stop-color="#fbe723"/><stop offset="0.5826" stop-color="#f1e51d"/><stop offset="0.5872" stop-color="#a5db36"/><stop offset="0.5994" stop-color="#8ed645"/><stop offset="0.6059" stop-color="#34b679"/><stop offset="0.6125" stop-color="#23a983"/><stop offset="0.6190" stop-color="#21918c"/><stop offset="0.6349" stop-color="#25848e"/><stop offset="0.6433" stop-color="#2c738e"/><stop offset="0.6629" stop-color="#31678e"/><stop offset="0.6685" stop-color="#38598c"/><stop offset="0.6722" stop-color="#3a548c"/><stop offset="0.6899" stop-color="#3d4e8a"/><stop offset="0.6918" stop-color="#38588c"/><stop offset="0.6955" stop-color="#2a778e"/><stop offset="0.6974" stop-color="#287c8e"/><stop offset="0.7292" stop-color="#287d8e"/><stop offset="0.7562" stop-color="#2c738e"/><stop offset="0.7702" stop-color="#355f8d"/><stop offset="0.7824" stop-color="#355e8d"/><stop offset="0.7880" stop-color="#3c4f8a"/><stop offset="0.8020" stop-color="#3a548c"/><stop offset="0.8085" stop-color="#3b518b"/><stop offset="0.8160" stop-color="#423f85"/><stop offset="0.8356" stop-color="#414487"/><stop offset="0.8477" stop-color="#453882"/><stop offset="0.8552" stop-color="#424086"/><stop offset="0.8617" stop-color="#463480"/><stop offset="0.8748" stop-color="#472c7a"/><stop offset="0.8823" stop-color="#443a83"/><stop offset="0.8888" stop-color="#472d7b"/><stop offset="0.9028" stop-color="#482576"/><stop offset="0.9093" stop-color="#482979"/><stop offset="0.9149" stop-color="#482374"/><stop offset="0.9224" stop-color="#46327e"/><stop offset="0.9290" stop-color="#482374"/><stop offset="0.9346" stop-color="#482173"/><stop offset="0.9644" stop-color="#472f7d"/><stop offset="0.9710" stop-color="#472c7a"/><stop offset="0.9756" stop-color="#482173"/><stop offset="0.9831" stop-color="#482979"/><stop offset="0.9896" stop-color="#481a6c"/><stop offset="0.9999" stop-color="#481b6d"/></linearGradient></defs><clipPath id="hc"><rect x="80.3" y="139.2" width="1107.4" height="535.5"/></clipPath><g clip-path="url(#hc)"><rect x="77.0" y="136.2" width="71.0" height="541.5" fill="url(#g0)"/><rect x="120.0" y="136.2" width="210.0" height="541.5" fill="url(#g1)" mask="url(#m1)"/><rect x="282.0" y="136.2" width="142.0" height="541.5" fill="url(#g2)" mask="url(#m2)"/><rect x="410.0" y="136.2" width="150.0" height="541.5" fill="url(#g3)" mask="url(#m3)"/><rect x="520.0" y="136.2" width="210.0" height="541.5" fill="url(#g4)" mask="url(#m4)"/><rect x="705.0" y="136.2" width="40.0" height="541.5" fill="url(#g5)" mask="url(#m5)"/><rect x="745.0" y="136.2" width="20.0" height="541.5" fill="url(#g6)"/><rect x="765.0" y="136.2" width="20.0" height="541.5" fill="url(#g7)"/><rect x="785.0" y="136.2" width="183.0" height="541.5" fill="url(#g8)"/><rect x="968.0" y="136.2" width="150.0" height="541.5" fill="url(#g9)"/><rect x="1118.0" y="136.2" width="42.0" height="541.5" fill="url(#g10)"/><rect x="1160.0" y="136.2" width="31.0" height="541.5" fill="url(#g11)"/><rect x="945.0" y="416.6" width="23.0" height="13.4" fill="#472a7a"/><rect x="139.0" y="411.5" width="511.0" height="27.5" fill="#440154"/><rect x="650.0" y="411.5" width="7.0" height="32.3" fill="#440154"/><rect x="657.0" y="420.0" width="83.0" height="23.8" fill="#440154"/><rect x="740.0" y="421.0" width="25.0" height="22.8" fill="#440154"/><rect x="765.0" y="416.7" width="19.0" height="27.1" fill="#440154"/><rect x="784.0" y="421.0" width="58.0" height="26.7" fill="#440154"/><rect x="842.0" y="416.6" width="36.0" height="31.1" fill="#440154"/><rect x="878.0" y="398.6" width="29.0" height="49.1" fill="#440154"/><rect x="907.0" y="398.6" width="28.0" height="31.4" fill="#440154"/><rect x="935.0" y="394.0" width="10.0" height="36.0" fill="#440154"/><rect x="945.0" y="394.0" width="13.0" height="22.6" fill="#440154"/><rect x="958.0" y="379.0" width="10.0" height="37.6" fill="#440154"/><rect x="968.0" y="375.8" width="220.0" height="27.2" fill="#440154"/><path d="M85.43 139.2V674.8M90.56 139.2V674.8M100.82 139.2V674.8M105.95 139.2V674.8M116.21 139.2V674.8M121.34 139.2V674.8M131.60 139.2V674.8M136.73 139.2V674.8M146.99 139.2V674.8M152.12 139.2V674.8M162.38 139.2V674.8M167.51 139.2V674.8M177.77 139.2V674.8M182.90 139.2V674.8M193.16 139.2V674.8M198.29 139.2V674.8M208.55 139.2V674.8M213.68 139.2V674.8M223.94 139.2V674.8M229.07 139.2V674.8M239.33 139.2V674.8M244.46 139.2V674.8M254.72 139.2V674.8M259.85 139.2V674.8M270.11 139.2V674.8M275.24 139.2V674.8M285.50 139.2V674.8M290.63 139.2V674.8M300.89 139.2V674.8M306.02 139.2V674.8M316.28 139.2V674.8M321.41 139.2V674.8M331.67 139.2V674.8M336.80 139.2V674.8M347.06 139.2V674.8M352.19 139.2V674.8M362.45 139.2V674.8M367.58 139.2V674.8M377.84 139.2V674.8M382.97 139.2V674.8M393.23 139.2V674.8M398.36 139.2V674.8M408.62 139.2V674.8M413.75 139.2V674.8M424.01 139.2V674.8M429.14 139.2V674.8M439.40 139.2V674.8M444.53 139.2V674.8M454.79 139.2V674.8M459.92 139.2V674.8M470.18 139.2V674.8M475.31 139.2V674.8M485.57 139.2V674.8M490.70 139.2V674.8M500.96 139.2V674.8M506.09 139.2V674.8M516.35 139.2V674.8M521.48 139.2V674.8M531.74 139.2V674.8M536.87 139.2V674.8M547.13 139.2V674.8M552.26 139.2V674.8M562.52 139.2V674.8M567.65 139.2V674.8M577.91 139.2V674.8M583.04 139.2V674.8M593.30 139.2V674.8M598.43 139.2V674.8M608.69 139.2V674.8M613.82 139.2V674.8M624.08 139.2V674.8M629.21 139.2V674.8M639.47 139.2V674.8M644.60 139.2V674.8M654.86 139.2V674.8M659.99 139.2V674.8M670.25 139.2V674.8M675.38 139.2V674.8M685.64 139.2V674.8M690.77 139.2V674.8M701.03 139.2V674.8M706.16 139.2V674.8M716.42 139.2V674.8M721.55 139.2V674.8M731.81 139.2V674.8M736.94 139.2V674.8M747.20 139.2V674.8M752.33 139.2V674.8M762.59 139.2V674.8M767.72 139.2V674.8M777.98 139.2V674.8M783.11 139.2V674.8M793.37 139.2V674.8M798.50 139.2V674.8M808.76 139.2V674.8M813.89 139.2V674.8M824.15 139.2V674.8M829.28 139.2V674.8M839.54 139.2V674.8M844.67 139.2V674.8M854.93 139.2V674.8M860.06 139.2V674.8M870.32 139.2V674.8M875.45 139.2V674.8M885.71 139.2V674.8M890.84 139.2V674.8M901.10 139.2V674.8M906.23 139.2V674.8M916.49 139.2V674.8M921.62 139.2V674.8M931.88 139.2V674.8M937.01 139.2V674.8M947.27 139.2V674.8M952.40 139.2V674.8M962.66 139.2V674.8M967.79 139.2V674.8M978.05 139.2V674.8M983.18 139.2V674.8M993.44 139.2V674.8M998.57 139.2V674.8M1008.83 139.2V674.8M1013.96 139.2V674.8M1024.22 139.2V674.8M1029.35 139.2V674.8M1039.61 139.2V674.8M1044.74 139.2V674.8M1055.00 139.2V674.8M1060.13 139.2V674.8M1070.39 139.2V674.8M1075.52 139.2V674.8M1085.78 139.2V674.8M1090.91 139.2V674.8M1101.17 139.2V674.8M1106.30 139.2V674.8M1116.56 139.2V674.8M1121.69 139.2V674.8M1131.95 139.2V674.8M1137.08 139.2V674.8M1147.34 139.2V674.8M1152.47 139.2V674.8M1162.73 139.2V674.8M1167.86 139.2V674.8M1178.12 139.2V674.8M1183.25 139.2V674.8" stroke="#ffffff" stroke-opacity="0.018" stroke-width="1"/><path d="M95.69 139.2V674.8M111.08 139.2V674.8M126.47 139.2V674.8M141.86 139.2V674.8M157.25 139.2V674.8M172.64 139.2V674.8M188.03 139.2V674.8M203.42 139.2V674.8M218.81 139.2V674.8M234.20 139.2V674.8M249.59 139.2V674.8M264.98 139.2V674.8M280.37 139.2V674.8M295.76 139.2V674.8M311.15 139.2V674.8M326.54 139.2V674.8M341.93 139.2V674.8M357.32 139.2V674.8M372.71 139.2V674.8M388.10 139.2V674.8M403.49 139.2V674.8M418.88 139.2V674.8M434.27 139.2V674.8M449.66 139.2V674.8M465.05 139.2V674.8M480.44 139.2V674.8M495.83 139.2V674.8M511.22 139.2V674.8M526.61 139.2V674.8M542.00 139.2V674.8M557.39 139.2V674.8M572.78 139.2V674.8M588.17 139.2V674.8M603.56 139.2V674.8M618.95 139.2V674.8M634.34 139.2V674.8M649.73 139.2V674.8M665.12 139.2V674.8M680.51 139.2V674.8M695.90 139.2V674.8M711.29 139.2V674.8M726.68 139.2V674.8M742.07 139.2V674.8M757.46 139.2V674.8M772.85 139.2V674.8M788.24 139.2V674.8M803.63 139.2V674.8M819.02 139.2V674.8M834.41 139.2V674.8M849.80 139.2V674.8M865.19 139.2V674.8M880.58 139.2V674.8M895.97 139.2V674.8M911.36 139.2V674.8M926.75 139.2V674.8M942.14 139.2V674.8M957.53 139.2V674.8M972.92 139.2V674.8M988.31 139.2V674.8M1003.70 139.2V674.8M1019.09 139.2V674.8M1034.48 139.2V674.8M1049.87 139.2V674.8M1065.26 139.2V674.8M1080.65 139.2V674.8M1096.04 139.2V674.8M1111.43 139.2V674.8M1126.82 139.2V674.8M1142.21 139.2V674.8M1157.60 139.2V674.8M1172.99 139.2V674.8" stroke="#ffffff" stroke-opacity="0.035" stroke-width="1.2"/><path d="M89.91 432.16V435.20M88.51 432.81h2.8v2.29h-2.8zM97.60 431.59V435.17M96.20 433.01h2.8v1.30h-2.8zM101.45 431.90V434.56M100.05 431.97h2.8v1.30h-2.8zM112.98 431.27V434.40M111.58 432.09h2.8v2.21h-2.8zM116.83 430.85V433.56M115.43 431.16h2.8v1.38h-2.8zM124.52 429.69V433.52M123.12 430.88h2.8v1.59h-2.8zM128.36 429.11V432.51M126.96 429.90h2.8v1.30h-2.8zM136.05 429.67V431.93M134.65 429.90h2.8v1.30h-2.8zM139.90 427.71V431.02M138.50 428.86h2.8v1.30h-2.8zM147.59 428.89V432.14M146.19 429.58h2.8v1.30h-2.8zM155.28 428.99V432.76M153.88 429.97h2.8v1.30h-2.8zM166.82 430.89V433.61M165.42 430.98h2.8v1.48h-2.8zM178.35 431.64V433.98M176.95 432.05h2.8v1.30h-2.8zM182.20 429.58V432.54M180.80 431.01h2.8v1.30h-2.8zM193.73 430.63V434.39M192.33 432.05h2.8v1.30h-2.8zM197.58 430.00V432.40M196.18 431.01h2.8v1.30h-2.8zM212.96 431.45V434.93M211.56 431.96h2.8v2.89h-2.8zM220.65 430.43V434.50M219.25 431.74h2.8v1.84h-2.8zM228.34 430.36V433.85M226.94 431.85h2.8v1.30h-2.8zM236.03 431.61V433.18M234.63 431.85h2.8v1.30h-2.8zM239.87 430.59V432.92M238.47 430.81h2.8v1.30h-2.8zM243.72 428.30V432.36M242.32 429.77h2.8v1.30h-2.8zM251.41 430.39V433.66M250.01 431.19h2.8v1.30h-2.8zM259.10 429.96V433.60M257.70 431.19h2.8v1.30h-2.8zM262.94 429.62V431.49M261.54 430.15h2.8v1.30h-2.8zM270.63 429.55V432.92M269.23 430.22h2.8v1.30h-2.8zM282.17 430.37V434.65M280.77 431.72h2.8v1.67h-2.8zM286.01 429.55V432.18M284.61 430.75h2.8v1.30h-2.8zM289.86 428.54V432.14M288.46 429.71h2.8v1.30h-2.8zM297.55 427.89V431.61M296.15 429.35h2.8v1.67h-2.8zM301.40 426.20V430.77M300.00 427.62h2.8v2.06h-2.8zM305.24 425.97V428.26M303.84 426.16h2.8v1.87h-2.8zM309.09 425.02V427.78M307.69 425.24h2.8v1.30h-2.8zM312.93 423.67V426.32M311.53 424.20h2.8v1.30h-2.8zM320.62 423.55V426.81M319.22 424.20h2.8v1.30h-2.8zM336.00 426.22V429.51M334.60 427.58h2.8v1.30h-2.8zM339.85 425.74V428.62M338.45 426.54h2.8v1.30h-2.8zM359.07 426.53V431.72M357.67 427.69h2.8v3.27h-2.8zM362.92 425.67V429.01M361.52 427.04h2.8v1.30h-2.8zM366.76 425.23V428.34M365.36 426.00h2.8v1.30h-2.8zM370.61 424.25V427.68M369.21 424.96h2.8v1.30h-2.8zM378.30 424.41V428.38M376.90 425.82h2.8v1.30h-2.8zM385.99 425.08V428.13M384.59 425.19h2.8v1.93h-2.8zM389.83 424.04V426.65M388.43 424.27h2.8v1.30h-2.8zM397.52 421.25V426.17M396.12 422.68h2.8v2.89h-2.8zM401.37 420.71V423.50M399.97 421.96h2.8v1.30h-2.8zM405.21 420.41V422.51M403.81 420.92h2.8v1.30h-2.8zM409.06 419.85V422.01M407.66 419.88h2.8v1.30h-2.8zM428.29 422.61V424.52M426.89 423.00h2.8v1.30h-2.8zM439.82 423.52V426.97M438.42 424.47h2.8v1.30h-2.8zM451.36 427.22V429.11M449.96 427.62h2.8v1.30h-2.8zM459.05 425.84V429.39M457.65 426.15h2.8v2.77h-2.8zM462.89 424.21V427.14M461.49 425.35h2.8v1.35h-2.8zM470.58 422.86V427.76M469.18 422.88h2.8v3.78h-2.8zM474.43 421.90V424.35M473.03 422.18h2.8v1.46h-2.8zM482.12 417.09V424.10M480.72 418.35h2.8v5.17h-2.8zM485.96 415.82V420.85M484.56 416.85h2.8v2.53h-2.8zM489.81 414.99V418.31M488.41 416.05h2.8v1.30h-2.8zM512.88 420.80V423.29M511.48 421.62h2.8v1.30h-2.8zM524.41 422.27V424.36M523.01 422.28h2.8v1.69h-2.8zM532.10 421.99V424.53M530.70 422.34h2.8v1.31h-2.8zM535.95 420.32V423.68M534.55 421.30h2.8v1.30h-2.8zM547.48 421.66V425.24M546.08 423.00h2.8v1.30h-2.8zM551.33 421.75V424.04M549.93 421.96h2.8v1.30h-2.8zM562.86 423.51V425.21M561.46 423.86h2.8v1.30h-2.8zM570.56 422.92V426.18M569.16 423.86h2.8v1.30h-2.8zM589.78 427.23V429.84M588.38 427.97h2.8v1.30h-2.8zM593.63 425.78V429.16M592.23 426.93h2.8v1.30h-2.8zM605.16 426.79V430.28M603.76 427.19h2.8v2.08h-2.8zM609.01 425.87V428.38M607.61 426.31h2.8v1.30h-2.8zM632.08 430.45V433.18M630.68 430.65h2.8v1.30h-2.8zM635.92 428.56V431.26M634.52 429.61h2.8v1.30h-2.8zM651.30 432.66V435.90M649.90 433.92h2.8v1.80h-2.8zM666.68 436.24V441.53M665.28 436.39h2.8v3.89h-2.8zM670.53 435.00V437.57M669.13 435.37h2.8v1.80h-2.8zM678.22 434.42V438.54M676.82 435.37h2.8v1.80h-2.8zM682.06 432.85V435.81M680.66 433.93h2.8v1.80h-2.8zM693.60 434.11V437.62M692.20 434.63h2.8v2.55h-2.8zM697.44 432.94V436.12M696.04 433.33h2.8v1.80h-2.8zM701.29 431.30V433.95M699.89 431.89h2.8v1.80h-2.8zM708.98 430.40V434.37M707.58 431.89h2.8v1.80h-2.8zM720.52 432.72V435.76M719.12 433.33h2.8v1.80h-2.8zM728.21 429.69V435.32M726.81 431.14h2.8v3.99h-2.8zM732.05 428.85V432.27M730.65 430.14h2.8v1.80h-2.8zM747.43 434.36V437.75M746.03 435.07h2.8v1.80h-2.8zM751.28 432.85V436.82M749.88 433.44h2.8v1.99h-2.8zM755.12 430.58V434.21M753.72 432.04h2.8v1.80h-2.8zM762.81 431.07V434.99M761.41 432.04h2.8v1.80h-2.8zM766.66 430.54V433.57M765.26 430.60h2.8v1.80h-2.8zM793.57 435.18V441.58M792.17 435.89h2.8v5.33h-2.8zM797.42 423.36V438.02M796.02 424.80h2.8v12.16h-2.8zM808.95 427.72V430.62M807.55 427.77h2.8v2.34h-2.8zM812.80 426.14V429.44M811.40 426.44h2.8v1.80h-2.8zM816.64 424.69V428.26M815.24 425.00h2.8v1.80h-2.8zM820.49 423.21V425.69M819.09 423.56h2.8v1.80h-2.8zM832.02 425.64V428.25M830.62 425.86h2.8v1.80h-2.8zM835.87 424.21V426.30M834.47 424.42h2.8v1.80h-2.8zM843.56 421.76V428.09M842.16 422.86h2.8v3.73h-2.8zM858.94 425.30V429.36M857.54 425.83h2.8v2.10h-2.8zM862.79 424.14V426.78M861.39 424.45h2.8v1.80h-2.8zM870.48 421.09V427.03M869.08 421.80h2.8v4.67h-2.8zM874.32 416.42V423.28M872.92 416.71h2.8v6.03h-2.8zM878.17 405.55V418.53M876.77 405.59h2.8v12.32h-2.8zM882.01 403.36V408.12M880.61 404.51h2.8v3.55h-2.8zM893.55 406.74V409.86M892.15 407.67h2.8v1.80h-2.8zM908.93 411.63V416.78M907.53 412.34h2.8v3.01h-2.8zM916.62 407.95V414.66M915.22 409.34h2.8v5.04h-2.8zM920.46 407.19V411.58M919.06 408.30h2.8v2.05h-2.8zM924.31 405.80V409.20M922.91 406.71h2.8v2.00h-2.8zM928.15 403.91V408.29M926.75 404.45h2.8v2.66h-2.8zM932.00 402.03V406.11M930.60 402.33h2.8v2.66h-2.8zM935.84 400.58V402.91M934.44 400.67h2.8v2.18h-2.8zM939.69 398.75V402.58M938.29 399.24h2.8v1.87h-2.8zM943.53 397.42V399.74M942.13 397.81h2.8v1.80h-2.8zM947.38 395.39V399.24M945.98 396.14h2.8v2.03h-2.8zM955.07 391.35V399.26M953.67 392.48h2.8v5.51h-2.8zM958.91 389.10V394.84M957.51 389.28h2.8v4.30h-2.8zM962.76 384.55V390.70M961.36 385.40h2.8v4.74h-2.8zM970.45 383.31V388.66M969.05 384.64h2.8v3.15h-2.8zM974.29 382.19V386.76M972.89 382.78h2.8v2.49h-2.8zM978.14 380.61V384.49M976.74 380.96h2.8v2.32h-2.8zM981.99 379.47V382.13M980.59 379.62h2.8v1.80h-2.8zM985.83 376.81V380.04M984.43 378.18h2.8v1.80h-2.8zM1020.44 396.32V398.86M1019.04 396.59h2.8v1.80h-2.8zM1024.28 393.21V397.78M1022.88 394.40h2.8v2.55h-2.8zM1028.13 392.34V395.51M1026.73 392.50h2.8v2.42h-2.8zM1031.97 391.04V393.22M1030.57 391.18h2.8v1.80h-2.8zM1039.66 389.08V393.83M1038.26 389.54h2.8v3.43h-2.8zM1043.51 386.92V391.53M1042.11 387.54h2.8v2.69h-2.8zM1051.20 385.72V390.87M1049.80 385.73h2.8v3.79h-2.8zM1055.04 384.08V387.81M1053.64 384.68h2.8v1.80h-2.8zM1062.73 383.78V387.08M1061.33 385.14h2.8v1.80h-2.8zM1074.27 385.00V389.82M1072.87 385.74h2.8v2.87h-2.8zM1085.80 386.46V390.43M1084.40 387.39h2.8v1.80h-2.8zM1089.65 385.62V388.36M1088.25 385.95h2.8v1.80h-2.8zM1105.03 387.40V392.76M1103.63 388.25h2.8v3.38h-2.8zM1108.87 386.95V389.82M1107.47 387.12h2.8v1.80h-2.8zM1112.72 385.22V388.11M1111.32 385.68h2.8v1.80h-2.8zM1128.10 389.45V392.21M1126.70 390.14h2.8v1.80h-2.8zM1139.64 392.99V396.02M1138.24 393.12h2.8v1.80h-2.8zM1151.17 395.09V399.21M1149.77 396.19h2.8v1.80h-2.8zM1155.02 394.01V397.98M1153.62 394.75h2.8v1.80h-2.8zM1166.55 395.24V398.94M1165.15 396.58h2.8v1.95h-2.8zM1181.93 398.21V401.61M1180.53 399.56h2.8v1.80h-2.8z" fill="#22d08e" stroke="#22d08e" stroke-width="0.5"/><path d="M82.22 432.04V434.43M80.82 433.02h2.8v1.30h-2.8zM86.07 433.97V436.12M84.67 434.06h2.8v1.30h-2.8zM93.76 432.03V434.75M92.36 433.27h2.8v1.30h-2.8zM105.29 432.05V433.99M103.89 432.23h2.8v1.30h-2.8zM109.14 432.40V435.53M107.74 433.27h2.8v1.30h-2.8zM120.67 430.55V433.41M119.27 431.43h2.8v1.30h-2.8zM132.21 428.69V431.63M130.81 430.16h2.8v1.30h-2.8zM143.74 428.65V432.36M142.34 429.12h2.8v2.20h-2.8zM151.44 429.13V432.62M150.04 429.84h2.8v1.78h-2.8zM159.13 429.80V432.30M157.73 430.23h2.8v1.50h-2.8zM162.97 430.73V432.97M161.57 431.42h2.8v1.30h-2.8zM170.66 430.69V433.88M169.26 431.27h2.8v1.30h-2.8zM174.51 431.49V434.94M173.11 432.31h2.8v1.30h-2.8zM186.04 430.92V433.30M184.64 431.27h2.8v1.30h-2.8zM189.89 432.31V434.24M188.49 432.31h2.8v1.30h-2.8zM201.42 430.10V434.45M200.02 431.27h2.8v1.86h-2.8zM205.27 432.17V434.22M203.87 432.77h2.8v1.30h-2.8zM209.11 433.71V435.42M207.71 433.81h2.8v1.30h-2.8zM216.80 432.38V434.38M215.40 432.54h2.8v1.30h-2.8zM224.49 431.59V433.95M223.09 432.11h2.8v1.30h-2.8zM232.18 431.95V433.92M230.78 432.11h2.8v1.30h-2.8zM247.56 429.64V433.66M246.16 430.03h2.8v3.08h-2.8zM255.25 430.23V434.23M253.85 431.45h2.8v1.30h-2.8zM266.79 429.99V432.18M265.39 430.41h2.8v1.38h-2.8zM274.48 429.04V433.36M273.08 430.48h2.8v2.34h-2.8zM278.32 432.05V433.95M276.92 432.35h2.8v1.30h-2.8zM293.71 428.79V431.77M292.31 429.97h2.8v1.30h-2.8zM316.78 423.00V426.73M315.38 424.46h2.8v1.30h-2.8zM324.47 424.14V427.76M323.07 424.46h2.8v2.92h-2.8zM328.31 425.92V428.49M326.91 426.80h2.8v1.30h-2.8zM332.16 426.47V429.67M330.76 427.84h2.8v1.30h-2.8zM343.69 426.52V428.10M342.29 426.80h2.8v1.30h-2.8zM347.54 427.13V430.23M346.14 427.84h2.8v1.30h-2.8zM351.38 428.10V431.01M349.98 428.88h2.8v1.30h-2.8zM355.23 429.08V431.59M353.83 429.92h2.8v1.30h-2.8zM374.45 423.91V429.01M373.05 425.22h2.8v2.37h-2.8zM382.14 425.42V427.49M380.74 426.08h2.8v1.30h-2.8zM393.68 423.21V427.29M392.28 424.53h2.8v1.30h-2.8zM412.90 419.64V422.37M411.50 420.14h2.8v1.30h-2.8zM416.75 419.70V423.66M415.35 421.18h2.8v1.30h-2.8zM420.59 421.82V423.58M419.19 422.22h2.8v1.30h-2.8zM424.44 423.06V425.19M423.04 423.26h2.8v1.30h-2.8zM432.13 422.40V426.15M430.73 423.26h2.8v1.84h-2.8zM435.98 423.70V426.67M434.58 424.73h2.8v1.30h-2.8zM443.67 423.44V427.15M442.27 424.73h2.8v2.32h-2.8zM447.51 425.90V430.01M446.11 426.59h2.8v2.92h-2.8zM455.20 427.71V429.42M453.80 427.88h2.8v1.30h-2.8zM466.74 425.10V426.95M465.34 425.62h2.8v1.30h-2.8zM478.27 421.24V424.42M476.87 422.47h2.8v1.30h-2.8zM493.65 415.79V419.46M492.25 416.31h2.8v3.06h-2.8zM497.50 417.65V420.45M496.10 418.76h2.8v1.30h-2.8zM501.34 418.54V422.41M499.94 419.80h2.8v1.30h-2.8zM505.19 420.48V422.58M503.79 420.84h2.8v1.30h-2.8zM509.03 421.21V423.58M507.63 421.88h2.8v1.30h-2.8zM516.72 421.35V423.19M515.32 421.88h2.8v1.30h-2.8zM520.57 422.17V424.52M519.17 422.92h2.8v1.30h-2.8zM528.26 422.55V423.95M526.86 422.62h2.8v1.30h-2.8zM539.79 420.98V424.17M538.39 421.56h2.8v2.12h-2.8zM543.64 422.17V425.52M542.24 423.26h2.8v1.30h-2.8zM555.17 420.97V425.75M553.77 422.22h2.8v2.33h-2.8zM559.02 423.21V426.77M557.62 424.08h2.8v1.35h-2.8zM566.71 423.96V426.67M565.31 424.12h2.8v1.30h-2.8zM574.40 424.11V427.81M573.00 424.12h2.8v2.49h-2.8zM578.25 425.36V428.26M576.85 426.11h2.8v1.35h-2.8zM582.09 426.09V428.87M580.69 427.19h2.8v1.30h-2.8zM585.94 427.14V429.84M584.54 428.23h2.8v1.30h-2.8zM597.47 426.97V428.87M596.07 427.19h2.8v1.30h-2.8zM601.32 427.38V429.55M599.92 428.23h2.8v1.30h-2.8zM612.85 425.87V428.12M611.45 426.57h2.8v1.37h-2.8zM616.70 427.37V430.59M615.30 427.67h2.8v1.46h-2.8zM620.54 428.14V431.36M619.14 428.83h2.8v1.30h-2.8zM624.39 429.47V431.49M622.99 429.87h2.8v1.30h-2.8zM628.23 430.04V432.42M626.83 430.91h2.8v1.30h-2.8zM639.77 429.14V433.62M638.37 429.87h2.8v3.71h-2.8zM643.61 432.16V435.09M642.21 432.84h2.8v1.80h-2.8zM647.46 433.80V437.34M646.06 434.28h2.8v1.80h-2.8zM655.15 433.21V439.53M653.75 434.28h2.8v3.91h-2.8zM658.99 436.81V440.70M657.59 437.40h2.8v1.80h-2.8zM662.84 438.20V441.05M661.44 438.84h2.8v1.80h-2.8zM674.37 435.17V438.97M672.97 435.73h2.8v1.80h-2.8zM685.91 433.16V437.06M684.51 434.29h2.8v1.80h-2.8zM689.75 434.34V437.72M688.35 435.73h2.8v1.80h-2.8zM705.14 430.90V434.80M703.74 432.25h2.8v1.80h-2.8zM712.83 432.12V434.57M711.43 432.25h2.8v1.80h-2.8zM716.67 433.31V436.35M715.27 433.69h2.8v1.80h-2.8zM724.36 433.19V435.59M722.96 433.69h2.8v1.80h-2.8zM735.90 430.13V433.68M734.50 430.50h2.8v2.58h-2.8zM739.74 431.13V436.56M738.34 432.57h2.8v2.72h-2.8zM743.59 434.71V437.45M742.19 434.74h2.8v2.66h-2.8zM758.97 431.62V435.22M757.57 432.40h2.8v1.80h-2.8zM770.50 429.58V434.17M769.10 430.96h2.8v2.25h-2.8zM774.35 432.38V435.51M772.95 432.76h2.8v1.80h-2.8zM778.19 434.03V436.13M776.79 434.20h2.8v1.83h-2.8zM782.04 434.78V439.32M780.64 435.66h2.8v3.08h-2.8zM785.88 437.22V440.22M784.48 438.12h2.8v2.08h-2.8zM789.73 438.35V442.55M788.33 439.79h2.8v1.80h-2.8zM801.26 426.49V430.05M799.86 427.24h2.8v1.80h-2.8zM805.11 427.67V431.86M803.71 428.68h2.8v1.80h-2.8zM824.33 423.48V428.22M822.93 423.92h2.8v2.87h-2.8zM828.18 425.88V428.65M826.78 426.22h2.8v1.80h-2.8zM839.71 424.19V428.39M838.31 424.78h2.8v2.27h-2.8zM847.41 423.33V426.81M846.01 423.61h2.8v1.80h-2.8zM851.25 424.05V427.41M849.85 425.05h2.8v1.80h-2.8zM855.10 426.23V428.29M853.70 426.49h2.8v1.80h-2.8zM866.63 423.58V427.53M865.23 424.81h2.8v2.07h-2.8zM885.86 403.84V407.40M884.46 405.22h2.8v1.80h-2.8zM889.70 405.31V410.68M888.30 406.66h2.8v3.51h-2.8zM897.39 407.55V412.61M895.99 408.03h2.8v4.17h-2.8zM901.24 410.23V415.82M899.84 411.36h2.8v3.08h-2.8zM905.08 412.41V415.76M903.68 413.83h2.8v1.90h-2.8zM912.77 412.57V415.39M911.37 412.94h2.8v1.80h-2.8zM951.22 395.92V399.28M949.82 396.55h2.8v1.80h-2.8zM966.60 385.98V388.52M965.20 386.35h2.8v1.80h-2.8zM989.68 378.36V381.38M988.28 378.54h2.8v2.56h-2.8zM993.52 379.71V388.38M992.12 380.59h2.8v6.39h-2.8zM997.37 384.40V388.34M995.97 385.70h2.8v1.97h-2.8zM1001.21 386.11V391.25M999.81 387.27h2.8v2.55h-2.8zM1005.06 388.42V393.83M1003.66 389.32h2.8v3.58h-2.8zM1008.90 391.63V395.21M1007.50 392.18h2.8v2.82h-2.8zM1012.75 394.05V397.70M1011.35 394.44h2.8v2.36h-2.8zM1016.59 396.02V398.93M1015.19 396.33h2.8v2.59h-2.8zM1035.82 391.11V393.80M1034.42 391.54h2.8v1.80h-2.8zM1047.35 387.78V390.97M1045.95 388.08h2.8v1.80h-2.8zM1058.89 384.80V387.44M1057.49 385.04h2.8v2.37h-2.8zM1066.58 384.95V388.34M1065.18 385.50h2.8v2.08h-2.8zM1070.42 386.39V390.36M1069.02 387.17h2.8v1.80h-2.8zM1078.11 386.12V389.53M1076.71 386.31h2.8v1.80h-2.8zM1081.96 387.67V390.94M1080.56 387.75h2.8v1.80h-2.8zM1093.49 385.07V389.63M1092.09 386.31h2.8v3.04h-2.8zM1097.34 387.97V391.12M1095.94 388.75h2.8v1.80h-2.8zM1101.18 389.10V393.33M1099.78 390.19h2.8v1.80h-2.8zM1116.56 385.40V390.04M1115.16 386.04h2.8v3.01h-2.8zM1120.41 387.79V390.58M1119.01 388.45h2.8v2.09h-2.8zM1124.26 389.39V392.74M1122.86 390.12h2.8v2.27h-2.8zM1131.95 390.34V394.41M1130.55 390.50h2.8v3.72h-2.8zM1135.79 392.81V396.04M1134.39 393.48h2.8v1.80h-2.8zM1143.48 392.71V397.40M1142.08 393.48h2.8v3.84h-2.8zM1147.33 395.12V398.55M1145.93 396.55h2.8v1.80h-2.8zM1158.86 394.86V398.77M1157.46 395.11h2.8v2.48h-2.8zM1162.71 396.56V400.02M1161.31 397.09h2.8v1.80h-2.8zM1170.40 396.76V399.61M1169.00 396.97h2.8v1.88h-2.8zM1174.24 398.08V401.04M1172.84 398.48h2.8v1.80h-2.8zM1178.09 399.64V401.96M1176.69 399.92h2.8v1.80h-2.8zM1185.78 399.74V403.93M1184.38 399.92h2.8v3.22h-2.8z" fill="#f0596a" stroke="#f0596a" stroke-width="0.5"/></g></svg>

<div class="yl" style="top:133px">100244</div>
<div class="yl" style="top:171px">99000</div>
<div class="yl" style="top:263px">96000</div>
<div class="yl" style="top:355px">93000</div>
<div class="yl" style="top:447px">90000</div>
<div class="yl" style="top:539px">87000</div>
<div class="yl" style="top:631px">84000</div>
<div class="yl" style="top:668px">82767</div>

<svg class="hm" width="1280" height="751" style="pointer-events:none">
<rect x="83" y="684" width="1106" height="54" fill="#e9ecf7"/>
<path d="M83.0 722.8 L84.9 722.8 L88.8 723.3 L92.6 722.1 L96.4 722.9 L100.3 722.2 L104.1 721.6 L108.0 722.4 L111.8 722.9 L115.6 721.7 L119.5 721.2 L123.3 722.0 L127.2 721.1 L131.0 720.6 L134.8 721.4 L138.7 720.6 L142.5 720.1 L146.4 721.3 L150.2 720.5 L154.0 721.5 L157.9 720.7 L161.7 721.5 L165.6 722.0 L169.4 721.2 L173.2 721.9 L177.1 722.4 L180.9 721.7 L184.8 721.2 L188.6 721.9 L192.4 722.4 L196.3 721.7 L200.1 721.2 L204.0 722.2 L207.8 722.7 L211.6 723.2 L215.5 721.6 L219.3 722.6 L223.2 721.5 L227.0 722.3 L230.9 721.6 L234.7 722.3 L238.5 721.6 L242.4 721.1 L246.2 720.6 L250.1 722.2 L253.9 721.3 L257.7 722.0 L261.6 721.3 L265.4 720.8 L269.3 721.6 L273.1 720.8 L276.9 722.1 L280.8 722.5 L284.6 721.5 L288.5 721.0 L292.3 720.5 L296.1 721.3 L300.0 720.4 L303.8 719.5 L307.7 718.8 L311.5 718.3 L315.3 717.8 L319.2 718.6 L323.0 717.8 L326.9 719.4 L330.7 719.7 L334.5 720.3 L338.4 719.5 L342.2 719.0 L346.1 719.7 L349.9 720.3 L353.7 720.8 L357.6 721.3 L361.4 719.5 L365.3 719.2 L369.1 718.7 L372.9 718.2 L376.8 719.5 L380.6 718.6 L384.5 719.4 L388.3 718.3 L392.1 717.9 L396.0 718.6 L399.8 717.1 L403.7 716.7 L407.5 716.2 L411.3 715.7 L415.2 716.5 L419.0 717.0 L422.9 717.5 L426.7 718.0 L430.5 717.2 L434.4 718.3 L438.2 718.7 L442.1 718.0 L445.9 719.2 L449.7 720.4 L453.6 719.5 L457.4 720.3 L461.3 718.8 L465.1 718.4 L468.9 719.2 L472.8 717.2 L476.6 716.8 L480.5 717.6 L484.3 715.0 L488.1 714.2 L492.0 713.8 L495.8 715.5 L499.7 715.8 L503.5 716.3 L507.4 716.8 L511.2 717.3 L515.0 716.6 L518.9 717.3 L522.7 717.8 L526.6 716.9 L530.4 717.7 L534.2 716.9 L538.1 716.4 L541.9 717.6 L545.8 718.0 L549.6 717.2 L553.4 716.7 L557.3 718.0 L561.1 718.4 L565.0 717.7 L568.8 718.4 L572.6 717.7 L576.5 719.0 L580.3 719.4 L584.2 719.9 L588.0 720.4 L591.8 719.7 L595.7 719.2 L599.5 719.9 L603.4 720.4 L607.2 719.3 L611.0 718.9 L614.9 719.7 L618.7 720.2 L622.6 720.7 L626.4 721.3 L630.2 721.8 L634.1 721.0 L637.9 720.5 L641.8 722.4 L645.6 722.9 L649.4 723.7 L653.3 722.6 L657.1 724.7 L661.0 725.2 L664.8 725.9 L668.6 723.8 L672.5 723.3 L676.3 724.4 L680.2 723.3 L684.0 722.6 L687.8 723.7 L691.7 724.4 L695.5 722.9 L699.4 722.3 L703.2 721.6 L707.0 722.7 L710.9 721.6 L714.7 722.7 L718.6 723.4 L722.4 722.3 L726.2 723.4 L730.1 721.2 L733.9 720.7 L737.8 722.2 L741.6 723.3 L745.4 724.3 L749.3 723.2 L753.1 722.4 L757.0 721.7 L760.8 722.7 L764.6 721.7 L768.5 721.0 L772.3 722.2 L776.2 722.9 L780.0 723.6 L783.9 725.0 L787.7 725.7 L791.5 726.4 L795.4 723.6 L799.2 718.1 L803.1 720.2 L806.9 720.9 L810.7 719.6 L814.6 718.9 L818.4 718.2 L822.3 717.5 L826.1 719.1 L829.9 719.7 L833.8 718.6 L837.6 717.9 L841.5 719.2 L845.3 717.2 L849.1 718.4 L853.0 719.1 L856.8 719.8 L860.7 718.6 L864.5 718.0 L868.3 719.1 L872.2 716.7 L876.0 714.2 L879.9 708.7 L883.7 708.2 L887.5 709.4 L891.4 711.0 L895.2 709.7 L899.1 712.0 L902.9 713.1 L906.7 713.7 L910.6 712.0 L914.4 713.2 L918.3 710.6 L922.1 710.0 L925.9 709.3 L929.8 708.2 L933.6 707.1 L937.5 706.3 L941.3 705.6 L945.1 704.9 L949.0 704.1 L952.8 705.2 L956.7 702.3 L960.5 700.7 L964.3 698.8 L968.2 700.2 L972.0 698.5 L975.9 697.5 L979.7 696.6 L983.5 696.0 L987.4 695.3 L991.2 696.7 L995.1 699.6 L998.9 699.9 L1002.7 701.0 L1006.6 702.5 L1010.4 703.5 L1014.3 704.4 L1018.1 705.4 L1021.9 704.3 L1025.8 703.2 L1029.6 702.3 L1033.5 701.7 L1037.3 702.7 L1041.1 700.9 L1045.0 699.9 L1048.8 701.0 L1052.7 699.0 L1056.5 698.5 L1060.4 699.8 L1064.2 698.7 L1068.0 699.9 L1071.9 700.6 L1075.7 699.0 L1079.6 700.2 L1083.4 700.9 L1087.2 699.8 L1091.1 699.1 L1094.9 700.8 L1098.8 701.3 L1102.6 702.1 L1106.4 700.2 L1110.3 699.7 L1114.1 699.0 L1118.0 700.6 L1121.8 701.3 L1125.6 702.2 L1129.5 701.1 L1133.3 703.1 L1137.2 703.7 L1141.0 702.6 L1144.8 704.7 L1148.7 705.2 L1152.5 704.1 L1156.4 703.4 L1160.2 704.8 L1164.0 705.4 L1167.9 704.3 L1171.7 705.4 L1175.6 706.1 L1179.4 706.8 L1183.2 705.8 L1187.1 707.5 L1189.0 707.5 L1189 738 L83 738Z" fill="#d5def8"/>
<path d="M83.0 722.8 L84.9 722.8 L88.8 723.3 L92.6 722.1 L96.4 722.9 L100.3 722.2 L104.1 721.6 L108.0 722.4 L111.8 722.9 L115.6 721.7 L119.5 721.2 L123.3 722.0 L127.2 721.1 L131.0 720.6 L134.8 721.4 L138.7 720.6 L142.5 720.1 L146.4 721.3 L150.2 720.5 L154.0 721.5 L157.9 720.7 L161.7 721.5 L165.6 722.0 L169.4 721.2 L173.2 721.9 L177.1 722.4 L180.9 721.7 L184.8 721.2 L188.6 721.9 L192.4 722.4 L196.3 721.7 L200.1 721.2 L204.0 722.2 L207.8 722.7 L211.6 723.2 L215.5 721.6 L219.3 722.6 L223.2 721.5 L227.0 722.3 L230.9 721.6 L234.7 722.3 L238.5 721.6 L242.4 721.1 L246.2 720.6 L250.1 722.2 L253.9 721.3 L257.7 722.0 L261.6 721.3 L265.4 720.8 L269.3 721.6 L273.1 720.8 L276.9 722.1 L280.8 722.5 L284.6 721.5 L288.5 721.0 L292.3 720.5 L296.1 721.3 L300.0 720.4 L303.8 719.5 L307.7 718.8 L311.5 718.3 L315.3 717.8 L319.2 718.6 L323.0 717.8 L326.9 719.4 L330.7 719.7 L334.5 720.3 L338.4 719.5 L342.2 719.0 L346.1 719.7 L349.9 720.3 L353.7 720.8 L357.6 721.3 L361.4 719.5 L365.3 719.2 L369.1 718.7 L372.9 718.2 L376.8 719.5 L380.6 718.6 L384.5 719.4 L388.3 718.3 L392.1 717.9 L396.0 718.6 L399.8 717.1 L403.7 716.7 L407.5 716.2 L411.3 715.7 L415.2 716.5 L419.0 717.0 L422.9 717.5 L426.7 718.0 L430.5 717.2 L434.4 718.3 L438.2 718.7 L442.1 718.0 L445.9 719.2 L449.7 720.4 L453.6 719.5 L457.4 720.3 L461.3 718.8 L465.1 718.4 L468.9 719.2 L472.8 717.2 L476.6 716.8 L480.5 717.6 L484.3 715.0 L488.1 714.2 L492.0 713.8 L495.8 715.5 L499.7 715.8 L503.5 716.3 L507.4 716.8 L511.2 717.3 L515.0 716.6 L518.9 717.3 L522.7 717.8 L526.6 716.9 L530.4 717.7 L534.2 716.9 L538.1 716.4 L541.9 717.6 L545.8 718.0 L549.6 717.2 L553.4 716.7 L557.3 718.0 L561.1 718.4 L565.0 717.7 L568.8 718.4 L572.6 717.7 L576.5 719.0 L580.3 719.4 L584.2 719.9 L588.0 720.4 L591.8 719.7 L595.7 719.2 L599.5 719.9 L603.4 720.4 L607.2 719.3 L611.0 718.9 L614.9 719.7 L618.7 720.2 L622.6 720.7 L626.4 721.3 L630.2 721.8 L634.1 721.0 L637.9 720.5 L641.8 722.4 L645.6 722.9 L649.4 723.7 L653.3 722.6 L657.1 724.7 L661.0 725.2 L664.8 725.9 L668.6 723.8 L672.5 723.3 L676.3 724.4 L680.2 723.3 L684.0 722.6 L687.8 723.7 L691.7 724.4 L695.5 722.9 L699.4 722.3 L703.2 721.6 L707.0 722.7 L710.9 721.6 L714.7 722.7 L718.6 723.4 L722.4 722.3 L726.2 723.4 L730.1 721.2 L733.9 720.7 L737.8 722.2 L741.6 723.3 L745.4 724.3 L749.3 723.2 L753.1 722.4 L757.0 721.7 L760.8 722.7 L764.6 721.7 L768.5 721.0 L772.3 722.2 L776.2 722.9 L780.0 723.6 L783.9 725.0 L787.7 725.7 L791.5 726.4 L795.4 723.6 L799.2 718.1 L803.1 720.2 L806.9 720.9 L810.7 719.6 L814.6 718.9 L818.4 718.2 L822.3 717.5 L826.1 719.1 L829.9 719.7 L833.8 718.6 L837.6 717.9 L841.5 719.2 L845.3 717.2 L849.1 718.4 L853.0 719.1 L856.8 719.8 L860.7 718.6 L864.5 718.0 L868.3 719.1 L872.2 716.7 L876.0 714.2 L879.9 708.7 L883.7 708.2 L887.5 709.4 L891.4 711.0 L895.2 709.7 L899.1 712.0 L902.9 713.1 L906.7 713.7 L910.6 712.0 L914.4 713.2 L918.3 710.6 L922.1 710.0 L925.9 709.3 L929.8 708.2 L933.6 707.1 L937.5 706.3 L941.3 705.6 L945.1 704.9 L949.0 704.1 L952.8 705.2 L956.7 702.3 L960.5 700.7 L964.3 698.8 L968.2 700.2 L972.0 698.5 L975.9 697.5 L979.7 696.6 L983.5 696.0 L987.4 695.3 L991.2 696.7 L995.1 699.6 L998.9 699.9 L1002.7 701.0 L1006.6 702.5 L1010.4 703.5 L1014.3 704.4 L1018.1 705.4 L1021.9 704.3 L1025.8 703.2 L1029.6 702.3 L1033.5 701.7 L1037.3 702.7 L1041.1 700.9 L1045.0 699.9 L1048.8 701.0 L1052.7 699.0 L1056.5 698.5 L1060.4 699.8 L1064.2 698.7 L1068.0 699.9 L1071.9 700.6 L1075.7 699.0 L1079.6 700.2 L1083.4 700.9 L1087.2 699.8 L1091.1 699.1 L1094.9 700.8 L1098.8 701.3 L1102.6 702.1 L1106.4 700.2 L1110.3 699.7 L1114.1 699.0 L1118.0 700.6 L1121.8 701.3 L1125.6 702.2 L1129.5 701.1 L1133.3 703.1 L1137.2 703.7 L1141.0 702.6 L1144.8 704.7 L1148.7 705.2 L1152.5 704.1 L1156.4 703.4 L1160.2 704.8 L1164.0 705.4 L1167.9 704.3 L1171.7 705.4 L1175.6 706.1 L1179.4 706.8 L1183.2 705.8 L1187.1 707.5 L1189.0 707.5" fill="none" stroke="#adc3f3" stroke-width="1"/>
<rect x="79.5" y="704.5" width="8.5" height="15.5" rx="4" fill="#3d4354"/>
<rect x="83" y="709" width="1" height="6" fill="#8a90a0"/>
<rect x="1184.5" y="704.5" width="8.5" height="15.5" rx="4" fill="#3d4354"/>
<rect x="1188" y="709" width="1" height="6" fill="#8a90a0"/>
</svg>
<svg class="hm" width="1280" height="751" viewBox="0 0 1280 751">
<path d="M1093.5 631Q1098 629.5 1102.5 631L1103.5 634Q1106.5 633.5 1108.3 635.5L1108 638.5Q1106 640 1105 640.5L1105.2 646Q1105 649 1103.5 650.5L1103 653.5Q1100.5 654 1098.5 652.5Q1096 654 1093 653.5L1092.5 650.5Q1091 649 1091 646L1091 640.5Q1089.5 640 1088.2 638.5L1088.3 635.5Q1090 633.5 1092.5 634Z" fill="#ab9fbd" fill-opacity="0.85"/>
<text x="1113.5" y="646.6" font-family="Liberation Sans" font-size="17" textLength="65" lengthAdjust="spacingAndGlyphs" fill="#ab9fbd" fill-opacity="0.8" stroke="#ab9fbd" stroke-opacity="0.8" stroke-width="0.5">coinglass</text>
</svg>

<div class="xl" style="left:48.0px">11, 10:45</div><div class="xl" style="left:105.6px">11, 12:00</div><div class="xl" style="left:163.2px">11, 13:15</div><div class="xl" style="left:220.8px">11, 14:30</div><div class="xl" style="left:278.4px">11, 15:45</div><div class="xl" style="left:336.0px">11, 17:00</div><div class="xl" style="left:393.6px">11, 18:15</div><div class="xl" style="left:451.2px">11, 19:30</div><div class="xl" style="left:508.8px">11, 20:45</div><div class="xl" style="left:566.4px">11, 22:00</div><div class="xl" style="left:624.0px">11, 23:15</div><div class="xl" style="left:681.6px">12, 00:30</div><div class="xl" style="left:739.2px">12, 01:45</div><div class="xl" style="left:796.8px">12, 03:00</div><div class="xl" style="left:854.4px">12, 04:15</div><div class="xl" style="left:912.0px">12, 05:30</div><div class="xl" style="left:969.6px">12, 06:45</div><div class="xl" style="left:1027.2px">12, 08:00</div><div class="xl" style="left:1084.8px">12, 09:15</div><div class="xl" style="left:1142.4px">12, 10:30</div>
</body></html>
